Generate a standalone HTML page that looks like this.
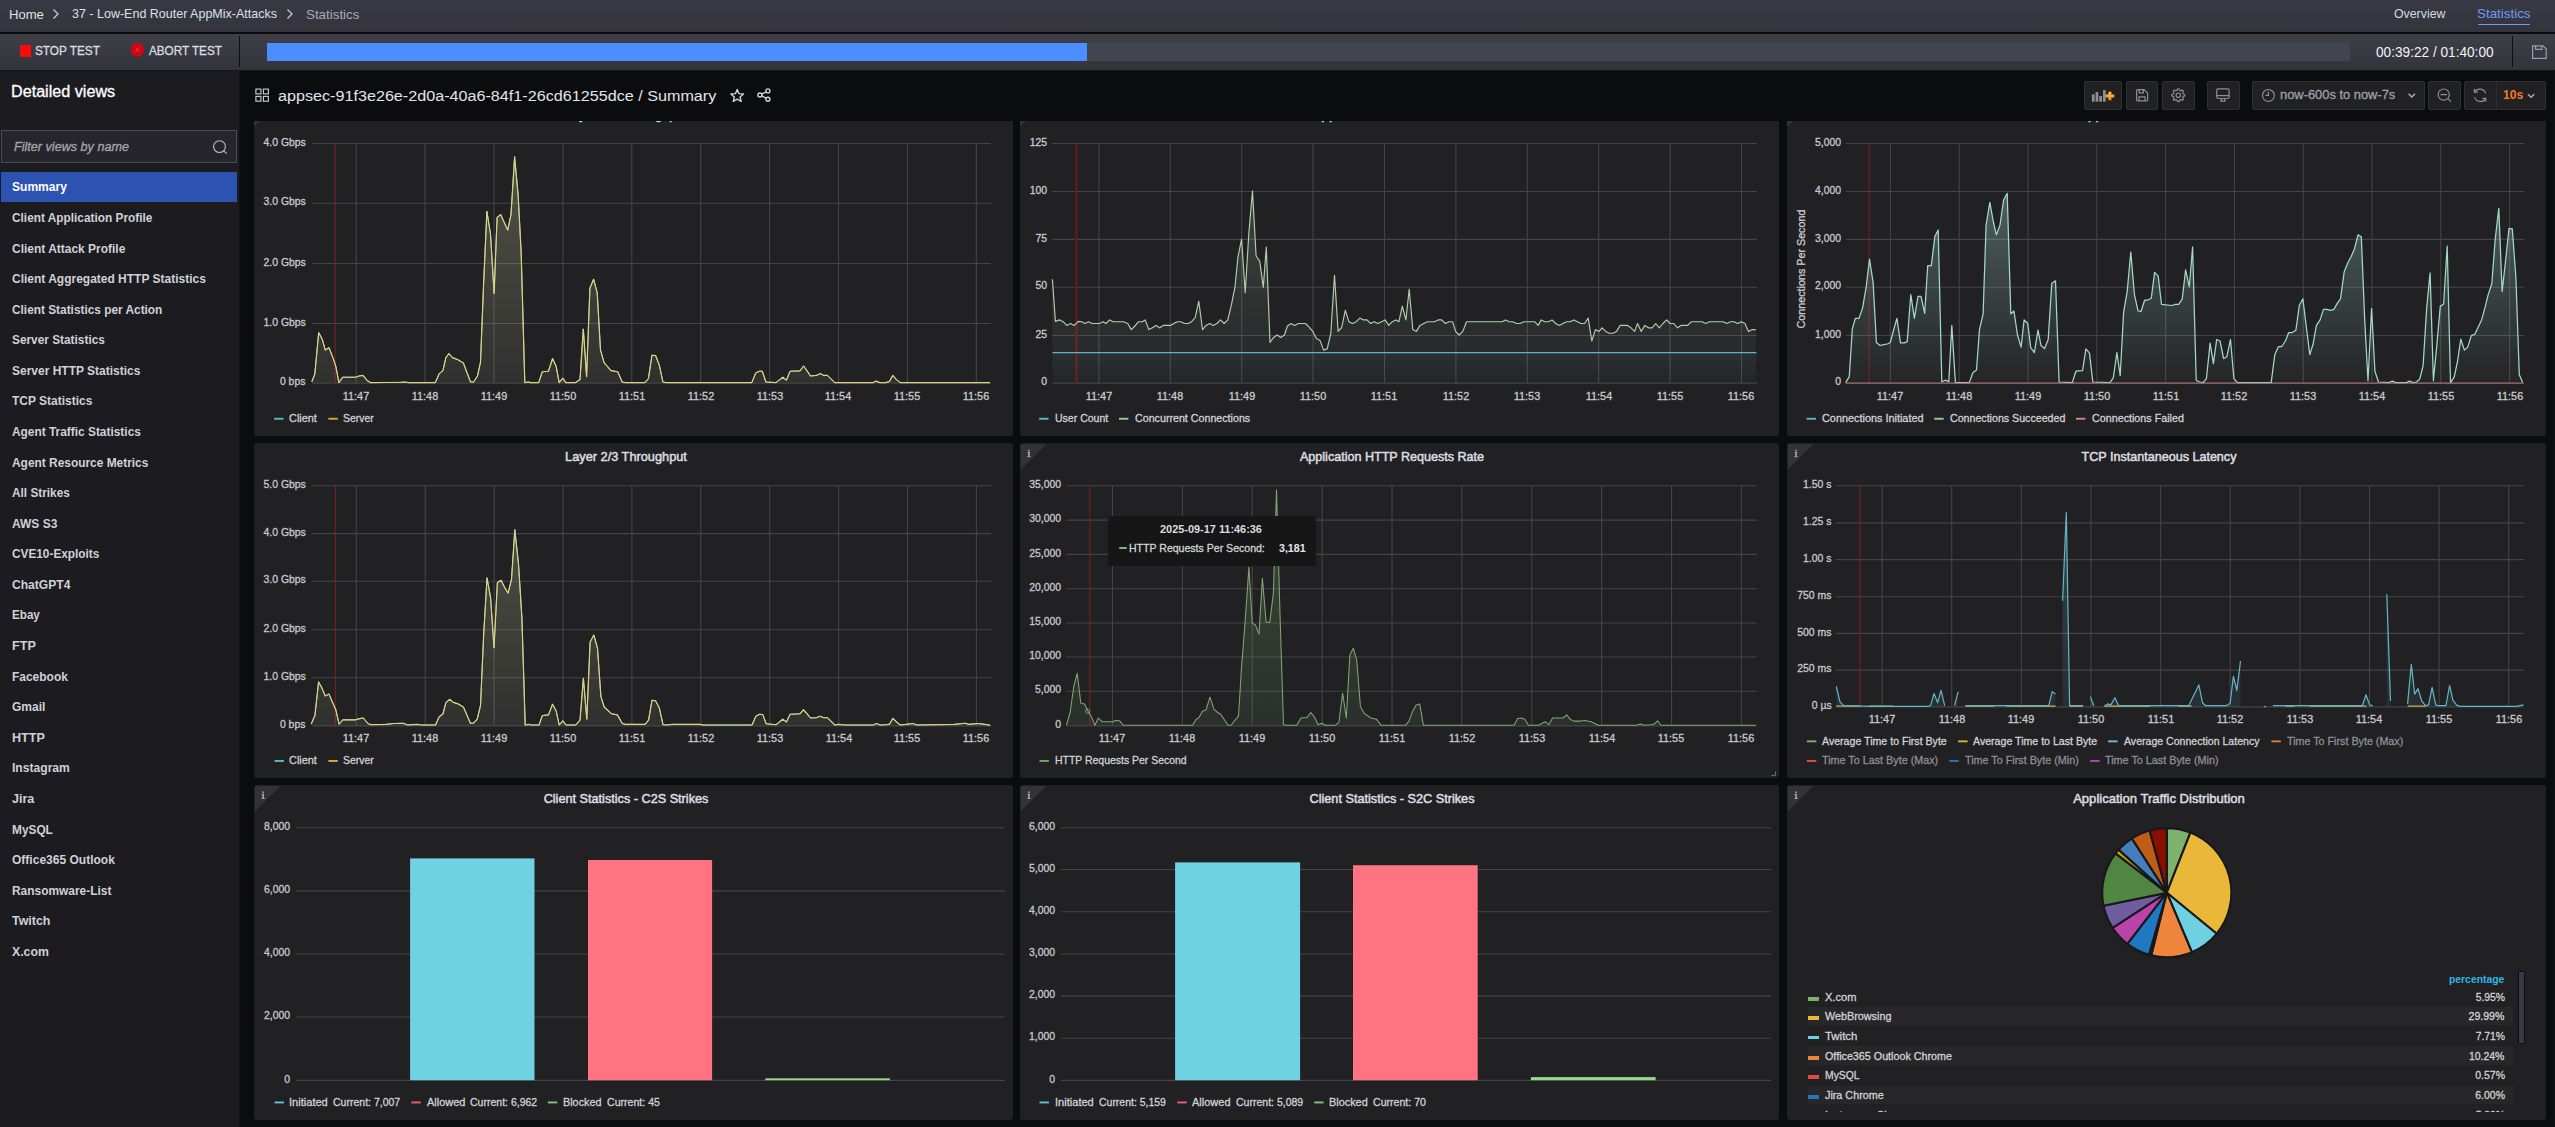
<!DOCTYPE html><html><head><meta charset="utf-8"><title>Statistics</title><style>

html,body{margin:0;padding:0;background:#0b0c0e;}
body{width:2555px;height:1127px;overflow:hidden;position:relative;font-family:"Liberation Sans", sans-serif;}
.t{position:absolute;white-space:nowrap;line-height:20px;height:20px;}
.t i{font-style:inherit;}
svg{position:absolute;left:0;top:0;}

</style></head><body>
<div style="position:absolute;left:0px;top:0px;width:2555px;height:32px;background:linear-gradient(#383942,#33343c);"></div>
<div style="position:absolute;left:0px;top:32px;width:2555px;height:1.5px;background:#0c0c10;"></div>
<div style="position:absolute;left:2478px;top:24px;width:52px;height:1.3px;background:#6e9bf5;"></div>
<div style="position:absolute;left:0px;top:33.5px;width:2555px;height:36.5px;background:linear-gradient(#3e3f47,#33343b);"></div>
<div style="position:absolute;left:0px;top:69.5px;width:2555px;height:1px;background:#141418;"></div>
<div style="position:absolute;left:19.5px;top:45px;width:11.5px;height:11.5px;background:#ff0a0a;"></div>
<div style="position:absolute;left:238.5px;top:36px;width:1.5px;height:31px;background:#101014;"></div>
<div style="position:absolute;left:267px;top:43px;width:2083px;height:18px;background:#42444f;"></div>
<div style="position:absolute;left:267px;top:43px;width:820px;height:18px;background:#4c8dff;"></div>
<div style="position:absolute;left:2511.5px;top:36px;width:1.5px;height:31px;background:#101014;"></div>
<div style="position:absolute;left:0px;top:70.5px;width:238.5px;height:1056.5px;background:#1b1b20;"></div>
<div style="position:absolute;left:238.5px;top:70.5px;width:1.5px;height:1056.5px;background:#121216;"></div>
<div style="position:absolute;left:1px;top:130px;width:236px;height:33px;border:1px solid #4a4a55;box-sizing:border-box;background:#25252b;"></div>
<div style="position:absolute;left:1px;top:171.5px;width:236px;height:30.5px;background:#2d53b2;"></div>
<div style="position:absolute;left:2084.2px;top:81.3px;width:37.6px;height:28.5px;background:#212124;border:1px solid #2f3034;box-sizing:border-box;border-radius:2px;"></div>
<div style="position:absolute;left:2126.2px;top:81.3px;width:31.6px;height:28.5px;background:#212124;border:1px solid #2f3034;box-sizing:border-box;border-radius:2px;"></div>
<div style="position:absolute;left:2162.2px;top:81.3px;width:32.6px;height:28.5px;background:#212124;border:1px solid #2f3034;box-sizing:border-box;border-radius:2px;"></div>
<div style="position:absolute;left:2207.2px;top:81.3px;width:32.6px;height:28.5px;background:#212124;border:1px solid #2f3034;box-sizing:border-box;border-radius:2px;"></div>
<div style="position:absolute;left:2252.2px;top:81.3px;width:172.6px;height:28.5px;background:#212124;border:1px solid #2f3034;box-sizing:border-box;border-radius:2px;"></div>
<div style="position:absolute;left:2428.2px;top:81.3px;width:32.6px;height:28.5px;background:#212124;border:1px solid #2f3034;box-sizing:border-box;border-radius:2px;"></div>
<div style="position:absolute;left:2464.2px;top:81.3px;width:81.6px;height:28.5px;background:#212124;border:1px solid #2f3034;box-sizing:border-box;border-radius:2px;"></div>
<div style="position:absolute;left:2496px;top:81.8px;width:1px;height:27.5px;background:#2c2e33;"></div>
<div style="position:absolute;left:254.2px;top:121px;width:759px;height:314.7px;background:#212124;border-radius:0 0 3px 3px;"></div>
<div style="position:absolute;left:1019.95px;top:121px;width:759px;height:314.7px;background:#212124;border-radius:0 0 3px 3px;"></div>
<div style="position:absolute;left:1787.1px;top:121px;width:759px;height:314.7px;background:#212124;border-radius:0 0 3px 3px;"></div>
<div style="position:absolute;left:254.2px;top:442.75px;width:759px;height:335px;background:#212124;border-radius:3px;"></div>
<div style="position:absolute;left:1019.95px;top:442.75px;width:759px;height:335px;background:#212124;border-radius:3px;"></div>
<div style="position:absolute;left:1787.1px;top:442.75px;width:759px;height:335px;background:#212124;border-radius:3px;"></div>
<div style="position:absolute;left:254.2px;top:784.5px;width:759px;height:335px;background:#212124;border-radius:3px;"></div>
<div style="position:absolute;left:1019.95px;top:784.5px;width:759px;height:335px;background:#212124;border-radius:3px;"></div>
<div style="position:absolute;left:1787.1px;top:784.5px;width:759px;height:335px;background:#212124;border-radius:3px;"></div>
<div style="position:absolute;left:1807.9px;top:997.4px;width:11px;height:3.6px;background:#7eb26d;"></div>
<div style="position:absolute;left:1807.9px;top:1006.8px;width:705.3px;height:18.6px;background:#27272a;"></div>
<div style="position:absolute;left:1807.9px;top:1016.4px;width:11px;height:3.6px;background:#eab839;"></div>
<div style="position:absolute;left:1807.9px;top:1035.9px;width:11px;height:3.6px;background:#6ed0e0;"></div>
<div style="position:absolute;left:1807.9px;top:1046.4px;width:705.3px;height:18.6px;background:#27272a;"></div>
<div style="position:absolute;left:1807.9px;top:1056px;width:11px;height:3.6px;background:#ef843c;"></div>
<div style="position:absolute;left:1807.9px;top:1075.2px;width:11px;height:3.6px;background:#e24d42;"></div>
<div style="position:absolute;left:1807.9px;top:1085.6px;width:705.3px;height:18.6px;background:#27272a;"></div>
<div style="position:absolute;left:1807.9px;top:1095.2px;width:11px;height:3.6px;background:#1f78c1;"></div>
<div style="position:absolute;left:1807.9px;top:1114.9px;width:11px;height:0px;background:#ba43a9;"></div>
<div style="position:absolute;left:2518.3px;top:971.2px;width:6.6px;height:72.6px;background:#3a3a46;border:1px solid #0e0e12;box-sizing:border-box;border-radius:1px;"></div>
<div style="position:absolute;left:2552.8px;top:70.5px;width:2.2px;height:1056.5px;background:#0f1013;"></div>
<svg width="2555" height="1127" viewBox="0 0 2555 1127">
<defs><linearGradient id="g1" gradientUnits="userSpaceOnUse" x1="0" y1="143" x2="0" y2="383"><stop offset="0" stop-color="#c8cd96" stop-opacity="0.3"/><stop offset="1" stop-color="#c8cd96" stop-opacity="0.09"/></linearGradient></defs>
<defs><linearGradient id="g2" gradientUnits="userSpaceOnUse" x1="0" y1="143" x2="0" y2="383"><stop offset="0" stop-color="#b9d3b4" stop-opacity="0.24"/><stop offset="1" stop-color="#b9d3b4" stop-opacity="0.02"/></linearGradient></defs>
<defs><linearGradient id="g2b" gradientUnits="userSpaceOnUse" x1="0" y1="352" x2="0" y2="383"><stop offset="0" stop-color="#6ed0e0" stop-opacity="0.04"/><stop offset="1" stop-color="#6ed0e0" stop-opacity="0"/></linearGradient></defs>
<defs><linearGradient id="g3" gradientUnits="userSpaceOnUse" x1="0" y1="143" x2="0" y2="383"><stop offset="0" stop-color="#a9dcc8" stop-opacity="0.42"/><stop offset="1" stop-color="#a9dcc8" stop-opacity="0.02"/></linearGradient></defs>
<defs><linearGradient id="g4" gradientUnits="userSpaceOnUse" x1="0" y1="485" x2="0" y2="726"><stop offset="0" stop-color="#c8cd96" stop-opacity="0.3"/><stop offset="1" stop-color="#c8cd96" stop-opacity="0.09"/></linearGradient></defs>
<defs><linearGradient id="g5" gradientUnits="userSpaceOnUse" x1="0" y1="485" x2="0" y2="726"><stop offset="0" stop-color="#7eb26d" stop-opacity="0.28"/><stop offset="1" stop-color="#7eb26d" stop-opacity="0.1"/></linearGradient></defs>
<defs><linearGradient id="g6" gradientUnits="userSpaceOnUse" x1="0" y1="485" x2="0" y2="707"><stop offset="0" stop-color="#6ed0e0" stop-opacity="0.22"/><stop offset="1" stop-color="#6ed0e0" stop-opacity="0.08"/></linearGradient></defs>
<path d="M53.5 9.5l4.5 4.5l-4.5 4.5" fill="none" stroke="#d0d1d8" stroke-width="1.2"/>
<path d="M287.5 9.5l4.5 4.5l-4.5 4.5" fill="none" stroke="#d0d1d8" stroke-width="1.2"/>
<circle cx="137.4" cy="49.7" r="6.7" fill="#d3040e"/><path d="M135.2 47.5l4.4 4.4M139.6 47.5l-4.4 4.4" stroke="#e8626a" stroke-width="0.8" opacity="0.8"/>
<path d="M2532.6 45.8h10.4l3.2 3.2v9.4h-13.6z M2535.6 45.8v3.6h6.2v-3.6" fill="none" stroke="#9b9ca6" stroke-width="1.2"/>
<circle cx="219.5" cy="146.6" r="5.9" fill="none" stroke="#b9b9c0" stroke-width="1.15"/><path d="M223.7 150.8l3.1 2.9" stroke="#b9b9c0" stroke-width="1.15"/>
<g fill="none" stroke="#c9cacf" stroke-width="1.15"><rect x="255.9" y="89.1" width="5" height="4.8"/><rect x="263.4" y="89.1" width="5" height="4.8"/><rect x="255.9" y="96.4" width="5" height="4.8"/><rect x="263.4" y="96.4" width="5" height="4.8"/></g>
<polygon points="737.20,89.40 738.96,93.67 743.57,94.03 740.05,97.03 741.14,101.52 737.20,99.10 733.26,101.52 734.35,97.03 730.83,94.03 735.44,93.67" fill="none" stroke="#d3d4d9" stroke-width="1.4" stroke-linejoin="round"/>
<g stroke="#d3d4d9" stroke-width="1.4" fill="none"><circle cx="759.9" cy="95" r="2"/><circle cx="767.9" cy="90.9" r="2"/><circle cx="767.9" cy="99.2" r="2"/><path d="M761.7 94.1l4.4-2.3M761.7 95.9l4.4 2.3"/></g>
<g fill="#8d8e96"><rect x="2091.9" y="94.4" width="2.7" height="7.3"/><rect x="2095.6" y="92.1" width="2.7" height="9.6"/><rect x="2099.3" y="96" width="2.7" height="5.7"/><rect x="2103" y="90.1" width="2.7" height="11.6"/></g><defs><linearGradient id="plusg" x1="0" y1="0" x2="0" y2="1"><stop offset="0" stop-color="#ffc640"/><stop offset="1" stop-color="#f58a1f"/></linearGradient></defs><path d="M2108.4 91.7h3v2.8h2.9v3h-2.9v2.8h-3v-2.8h-2.9v-3h2.9z" fill="url(#plusg)"/>
<path d="M2137.6 89.7h6.6l3.4 3.4v6.8a1 1 0 0 1-1 1h-9a1 1 0 0 1-1-1v-9.2a1 1 0 0 1 1-1z M2139.2 89.8v3h4.2v-2.9 M2139 100.8v-4h6v4" fill="none" stroke="#8d8e96" stroke-width="1.2"/>
<polygon points="2184.76,94.49 2184.76,95.91 2183.10,96.59 2182.68,97.61 2183.37,99.26 2182.36,100.27 2180.71,99.58 2179.69,100.00 2179.01,101.66 2177.59,101.66 2176.91,100.00 2175.89,99.58 2174.24,100.27 2173.23,99.26 2173.92,97.61 2173.50,96.59 2171.84,95.91 2171.84,94.49 2173.50,93.81 2173.92,92.79 2173.23,91.14 2174.24,90.13 2175.89,90.82 2176.91,90.40 2177.59,88.74 2179.01,88.74 2179.69,90.40 2180.71,90.82 2182.36,90.13 2183.37,91.14 2182.68,92.79 2183.10,93.81" fill="none" stroke="#8d8e96" stroke-width="1.2" stroke-linejoin="round"/><circle cx="2178.3" cy="95.2" r="2.2" fill="none" stroke="#8d8e96" stroke-width="1.2"/>
<g fill="none" stroke="#8d8e96" stroke-width="1.2"><rect x="2216.7" y="88.9" width="12.4" height="9.6" rx="1.4"/><path d="M2216.7 95.6h12.4M2220.2 101.2h5.6M2221.4 98.5v2.7M2224.6 98.5v2.7"/></g>
<g fill="none" stroke="#8d8e96" stroke-width="1.2"><circle cx="2268.4" cy="95.4" r="5.9"/><path d="M2268.4 91.6v3.8h-3"/></g>
<path d="M2408.6 93.8l3.2 3.2l3.2-3.2" fill="none" stroke="#b0b1b8" stroke-width="1.4"/>
<g fill="none" stroke="#8d8e96" stroke-width="1.2"><circle cx="2443.7" cy="94.6" r="5.6"/><path d="M2440.5 94.6h6.4M2447.8 98.6l3.2 3"/></g>
<g fill="none" stroke="#8d8e96" stroke-width="1.2"><path d="M2485.6 93.4a6 6 0 0 0-10.9-1.4M2474.6 97.2a6 6 0 0 0 10.9 1.4"/><path d="M2474.4 88.8v3.4h3.4M2485.8 101.8v-3.4h-3.4"/></g>
<path d="M2528 94.2l3.1 3.1l3.1-3.1" fill="none" stroke="#b0b1b8" stroke-width="1.4"/>
<polygon points="254.2,121 259.9,121 254.2,126.7" fill="#343438"/>
<polygon points="1019.95,121 1025.65,121 1019.95,126.7" fill="#343438"/>
<polygon points="1787.1,121 1792.8,121 1787.1,126.7" fill="#343438"/>
<polygon points="1020.55,444.15 1046.15,444.15 1020.55,469.75" fill="#333337"/>
<g fill="#a6a7ad"><rect x="1028.15" y="449.75" width="1.6" height="1.6"/><rect x="1028.15" y="452.15" width="1.6" height="4.6"/><rect x="1027.35" y="456.15" width="3.2" height="1"/><rect x="1027.35" y="452.15" width="2.4" height="1"/></g>
<polygon points="1787.7,444.15 1813.3,444.15 1787.7,469.75" fill="#333337"/>
<g fill="#a6a7ad"><rect x="1795.3" y="449.75" width="1.6" height="1.6"/><rect x="1795.3" y="452.15" width="1.6" height="4.6"/><rect x="1794.5" y="456.15" width="3.2" height="1"/><rect x="1794.5" y="452.15" width="2.4" height="1"/></g>
<polygon points="254.8,785.9 280.4,785.9 254.8,811.5" fill="#333337"/>
<g fill="#a6a7ad"><rect x="262.4" y="791.5" width="1.6" height="1.6"/><rect x="262.4" y="793.9" width="1.6" height="4.6"/><rect x="261.6" y="797.9" width="3.2" height="1"/><rect x="261.6" y="793.9" width="2.4" height="1"/></g>
<polygon points="1020.55,785.9 1046.15,785.9 1020.55,811.5" fill="#333337"/>
<g fill="#a6a7ad"><rect x="1028.15" y="791.5" width="1.6" height="1.6"/><rect x="1028.15" y="793.9" width="1.6" height="4.6"/><rect x="1027.35" y="797.9" width="3.2" height="1"/><rect x="1027.35" y="793.9" width="2.4" height="1"/></g>
<polygon points="1787.7,785.9 1813.3,785.9 1787.7,811.5" fill="#333337"/>
<g fill="#a6a7ad"><rect x="1795.3" y="791.5" width="1.6" height="1.6"/><rect x="1795.3" y="793.9" width="1.6" height="4.6"/><rect x="1794.5" y="797.9" width="3.2" height="1"/><rect x="1794.5" y="793.9" width="2.4" height="1"/></g>
<g stroke="#444448" stroke-width="1.1"><path d="M312 143.5H991"/><path d="M312 203.2H991"/><path d="M312 263.5H991"/><path d="M312 323.5H991"/><path d="M312 383.1H991"/><path d="M356.2 143V383"/><path d="M425.1 143V383"/><path d="M494 143V383"/><path d="M562.9 143V383"/><path d="M631.8 143V383"/><path d="M700.7 143V383"/><path d="M769.6 143V383"/><path d="M838.5 143V383"/><path d="M907.4 143V383"/><path d="M976.3 143V383"/></g>
<rect x="334.7" y="144" width="1" height="239" fill="#7f1e21"/>
<polyline points="311.8,381.7 314.8,374.2 318.7,332.6 322.3,339.5 325.3,350.1 329,347.7 332.9,357.6 335.9,366.6 338.9,382.6 342.8,377.2 355.5,377.2 359.1,376 363,375.4 367.5,380.8 370.5,382.6 400.7,382.3 405.2,382 408.2,382.6 435.3,382.6 439.3,373.6 442.9,370.6 445.9,357.6 448.9,353.7 452.5,357.6 457.9,359.7 463.4,363 467,372.7 470.6,382 473.6,382 477.5,376 480.5,362.1 483.6,283.8 486.9,211.4 490.5,234 494.1,293.4 497.1,217.5 500.7,214.5 504.7,223.5 507.7,230.1 511,214.5 514.6,156 518.2,195.2 521.2,253.6 524.8,382.6 528.8,382 530.3,382.6 538.7,382.6 542.3,371.8 548.4,371.2 552.6,358.5 556.2,366.6 559.2,382.6 562.8,378.1 565.8,382.6 575.5,382.6 580,379.6 583.3,329 586.6,376.6 589.9,288.3 593.6,279.2 597.2,292.8 600.5,350.1 604.1,362.7 611,370.6 617.7,371.8 622.2,382 625.2,382.6 644.8,382.6 648.4,378.7 652,355.2 655.6,355.5 659.3,365.1 662.9,382 665.9,382.6 751.8,382.6 755.7,373 759.3,371.2 762.3,371.2 765.9,382 775.9,382.6 779.8,379.6 782.8,377.2 786.4,380.2 790.1,371.2 800,370.9 803.6,366 806.9,370.6 810.5,376 816.6,375.4 820.2,373.6 823.8,375.4 827.4,375.4 834.7,382.6 873.2,382.6 876.2,381.1 879.9,382.6 885.9,382.6 889.5,381.4 892.8,375.4 896.4,379.6 900.4,382.6 989.9,382.6" fill="none" stroke="#6ed0e0" stroke-width="1" stroke-linejoin="round"/>
<polygon points="311.8,382.6 311.8,381.7 314.8,374.2 318.7,332.6 322.3,339.5 325.3,350.1 329,347.7 332.9,357.6 335.9,366.6 338.9,382.6 342.8,377.2 355.5,377.2 359.1,376 363,375.4 367.5,380.8 370.5,382.6 400.7,382.3 405.2,382 408.2,382.6 435.3,382.6 439.3,373.6 442.9,370.6 445.9,357.6 448.9,353.7 452.5,357.6 457.9,359.7 463.4,363 467,372.7 470.6,382 473.6,382 477.5,376 480.5,362.1 483.6,283.8 486.9,211.4 490.5,234 494.1,293.4 497.1,217.5 500.7,214.5 504.7,223.5 507.7,230.1 511,214.5 514.6,157.2 518.2,196.4 521.2,253.6 524.8,382.6 528.8,382 530.3,382.6 538.7,382.6 542.3,371.8 548.4,371.2 552.6,358.5 556.2,366.6 559.2,382.6 562.8,378.1 565.8,382.6 575.5,382.6 580,379.6 583.3,329 586.6,376.6 589.9,288.3 593.6,279.2 597.2,292.8 600.5,350.1 604.1,362.7 611,370.6 617.7,371.8 622.2,382 625.2,382.6 644.8,382.6 648.4,378.7 652,355.2 655.6,355.5 659.3,365.1 662.9,382 665.9,382.6 751.8,382.6 755.7,373 759.3,371.2 762.3,371.2 765.9,382 775.9,382.6 779.8,379.6 782.8,377.2 786.4,380.2 790.1,371.2 800,370.9 803.6,366 806.9,370.6 810.5,376 816.6,375.4 820.2,373.6 823.8,375.4 827.4,375.4 834.7,382.6 873.2,382.6 876.2,381.1 879.9,382.6 885.9,382.6 889.5,381.4 892.8,375.4 896.4,379.6 900.4,382.6 989.9,382.6 989.9,382.6" fill="url(#g1)"/>
<polyline points="311.8,381.7 314.8,374.2 318.7,332.6 322.3,339.5 325.3,350.1 329,347.7 332.9,357.6 335.9,366.6 338.9,382.6 342.8,377.2 355.5,377.2 359.1,376 363,375.4 367.5,380.8 370.5,382.6 400.7,382.3 405.2,382 408.2,382.6 435.3,382.6 439.3,373.6 442.9,370.6 445.9,357.6 448.9,353.7 452.5,357.6 457.9,359.7 463.4,363 467,372.7 470.6,382 473.6,382 477.5,376 480.5,362.1 483.6,283.8 486.9,211.4 490.5,234 494.1,293.4 497.1,217.5 500.7,214.5 504.7,223.5 507.7,230.1 511,214.5 514.6,157.2 518.2,196.4 521.2,253.6 524.8,382.6 528.8,382 530.3,382.6 538.7,382.6 542.3,371.8 548.4,371.2 552.6,358.5 556.2,366.6 559.2,382.6 562.8,378.1 565.8,382.6 575.5,382.6 580,379.6 583.3,329 586.6,376.6 589.9,288.3 593.6,279.2 597.2,292.8 600.5,350.1 604.1,362.7 611,370.6 617.7,371.8 622.2,382 625.2,382.6 644.8,382.6 648.4,378.7 652,355.2 655.6,355.5 659.3,365.1 662.9,382 665.9,382.6 751.8,382.6 755.7,373 759.3,371.2 762.3,371.2 765.9,382 775.9,382.6 779.8,379.6 782.8,377.2 786.4,380.2 790.1,371.2 800,370.9 803.6,366 806.9,370.6 810.5,376 816.6,375.4 820.2,373.6 823.8,375.4 827.4,375.4 834.7,382.6 873.2,382.6 876.2,381.1 879.9,382.6 885.9,382.6 889.5,381.4 892.8,375.4 896.4,379.6 900.4,382.6 989.9,382.6" fill="none" stroke="#e3cf7c" stroke-width="1.15" stroke-linejoin="round" />
<rect x="274.1" y="417.8" width="9.4" height="1.9" fill="#5fb7c6"/>
<rect x="328.4" y="417.8" width="9.4" height="1.9" fill="#d9a93a"/>
<g stroke="#444448" stroke-width="1.1"><path d="M1052.5 143.5H1757"/><path d="M1052.5 191.5H1757"/><path d="M1052.5 239.4H1757"/><path d="M1052.5 287.3H1757"/><path d="M1052.5 335.5H1757"/><path d="M1052.5 383.1H1757"/><path d="M1098.9 143V383"/><path d="M1170.3 143V383"/><path d="M1241.7 143V383"/><path d="M1313.1 143V383"/><path d="M1384.5 143V383"/><path d="M1455.9 143V383"/><path d="M1527.3 143V383"/><path d="M1598.7 143V383"/><path d="M1670.1 143V383"/><path d="M1741.5 143V383"/></g>
<rect x="1075.3" y="144" width="2.2" height="239" fill="#661b1e"/>
<rect x="1052.5" y="352.5" width="704" height="30" fill="url(#g2b)"/>
<polygon points="1052.4,382.6 1052.4,279.2 1055.4,321.4 1059.6,319.9 1063.2,321.7 1066.8,325.4 1070.5,323.5 1074.1,325.4 1078.3,321.4 1081.9,321.7 1084.9,323.5 1088.5,321.7 1092.2,323.5 1099.4,323.5 1103,321.7 1106,323.5 1109.6,319.9 1113.2,321.7 1123.5,321.7 1127.7,323.5 1131.3,329.6 1134.9,326 1138.6,321.7 1142.2,321.7 1145.2,319.9 1148.8,329.6 1152.4,327.8 1156,325.4 1159.7,327.8 1163.3,325.4 1170.5,325.4 1174.7,322.9 1177.7,321.7 1180.8,321.7 1184.4,323.5 1188,323.5 1191.6,321.7 1195.2,317.5 1198.8,301.2 1202.5,329.6 1206.1,325.4 1209.7,323.5 1213.3,325.4 1216.9,323.5 1220.5,319.9 1224.2,323.5 1227.8,319.9 1231.4,304.9 1235,286.8 1238,256.6 1241.6,239.2 1245.2,292.8 1248.9,232.5 1252.5,190.9 1256.1,256 1259.7,261.2 1263.3,287.4 1266.3,247 1270,342.5 1273.6,337.4 1277.2,335 1280.8,337.4 1284.4,335 1287.4,326 1291.1,323.5 1294.7,325.4 1298.3,323.5 1305.5,323.5 1309.1,327.2 1312.8,331.4 1316.4,338.6 1320,340.4 1323.6,350.1 1327.2,348.9 1330.8,333.5 1334.5,275.3 1338.1,331.4 1341.7,327.5 1345.3,310.3 1348.9,321.7 1352.5,323.5 1356.2,321.7 1359.8,318.1 1363.4,319.9 1367,319.9 1370.6,323.5 1374.2,321.7 1377.8,323.5 1381.5,321.7 1385.1,319.9 1388.7,325.4 1392.3,321.7 1395.9,319.9 1398.9,321.7 1402.3,306.1 1405.9,319.9 1409.2,289.2 1412.8,329.6 1416.4,331.4 1420,325.4 1423.7,323.5 1427.3,321.7 1434.5,321.7 1438.1,319.9 1441.7,319.9 1445.4,323.5 1449,321.7 1452.6,321.7 1455.6,331.4 1459.2,335 1462.8,331.4 1466.5,321.7 1502,321.7 1505.6,319.9 1509.2,321.7 1512.9,321.7 1516.5,323.5 1520.1,323.5 1523.7,321.7 1534.6,321.7 1538.2,325.4 1541.2,319.9 1544.8,321.7 1548.4,321.7 1552,319.9 1555.7,323.5 1559.3,325.4 1562.9,323.5 1566.5,321.7 1570.1,321.7 1573.7,319.9 1577.4,321.7 1581,323.5 1584.6,323.5 1588.2,318.1 1591.8,341 1595.4,329.6 1599.1,331.4 1602.1,327.8 1605.7,331.4 1609.3,333.2 1612.9,333.2 1616.5,331.4 1620.2,325.4 1627.4,325.4 1631,327.8 1634.6,331.4 1637.6,323.5 1641.2,331.4 1644.9,325.4 1648.5,327.8 1652.1,327.8 1655.7,323.5 1659.3,327.8 1662.9,323.5 1666.6,319.9 1670.2,323.5 1673.8,323.5 1677.4,327.8 1681,325.4 1687.7,325.4 1691.3,321.7 1702.1,321.7 1705.7,323.5 1709.4,321.7 1723.2,321.7 1726.8,323.5 1730.5,321.7 1734.1,321.7 1737.7,323.5 1741.3,321.7 1744.9,323.5 1748.5,331.4 1752.2,329.6 1755.8,329.6 1755.8,382.6" fill="url(#g2)"/>
<polyline points="1052.4,279.2 1055.4,321.4 1059.6,319.9 1063.2,321.7 1066.8,325.4 1070.5,323.5 1074.1,325.4 1078.3,321.4 1081.9,321.7 1084.9,323.5 1088.5,321.7 1092.2,323.5 1099.4,323.5 1103,321.7 1106,323.5 1109.6,319.9 1113.2,321.7 1123.5,321.7 1127.7,323.5 1131.3,329.6 1134.9,326 1138.6,321.7 1142.2,321.7 1145.2,319.9 1148.8,329.6 1152.4,327.8 1156,325.4 1159.7,327.8 1163.3,325.4 1170.5,325.4 1174.7,322.9 1177.7,321.7 1180.8,321.7 1184.4,323.5 1188,323.5 1191.6,321.7 1195.2,317.5 1198.8,301.2 1202.5,329.6 1206.1,325.4 1209.7,323.5 1213.3,325.4 1216.9,323.5 1220.5,319.9 1224.2,323.5 1227.8,319.9 1231.4,304.9 1235,286.8 1238,256.6 1241.6,239.2 1245.2,292.8 1248.9,232.5 1252.5,190.9 1256.1,256 1259.7,261.2 1263.3,287.4 1266.3,247 1270,342.5 1273.6,337.4 1277.2,335 1280.8,337.4 1284.4,335 1287.4,326 1291.1,323.5 1294.7,325.4 1298.3,323.5 1305.5,323.5 1309.1,327.2 1312.8,331.4 1316.4,338.6 1320,340.4 1323.6,350.1 1327.2,348.9 1330.8,333.5 1334.5,275.3 1338.1,331.4 1341.7,327.5 1345.3,310.3 1348.9,321.7 1352.5,323.5 1356.2,321.7 1359.8,318.1 1363.4,319.9 1367,319.9 1370.6,323.5 1374.2,321.7 1377.8,323.5 1381.5,321.7 1385.1,319.9 1388.7,325.4 1392.3,321.7 1395.9,319.9 1398.9,321.7 1402.3,306.1 1405.9,319.9 1409.2,289.2 1412.8,329.6 1416.4,331.4 1420,325.4 1423.7,323.5 1427.3,321.7 1434.5,321.7 1438.1,319.9 1441.7,319.9 1445.4,323.5 1449,321.7 1452.6,321.7 1455.6,331.4 1459.2,335 1462.8,331.4 1466.5,321.7 1502,321.7 1505.6,319.9 1509.2,321.7 1512.9,321.7 1516.5,323.5 1520.1,323.5 1523.7,321.7 1534.6,321.7 1538.2,325.4 1541.2,319.9 1544.8,321.7 1548.4,321.7 1552,319.9 1555.7,323.5 1559.3,325.4 1562.9,323.5 1566.5,321.7 1570.1,321.7 1573.7,319.9 1577.4,321.7 1581,323.5 1584.6,323.5 1588.2,318.1 1591.8,341 1595.4,329.6 1599.1,331.4 1602.1,327.8 1605.7,331.4 1609.3,333.2 1612.9,333.2 1616.5,331.4 1620.2,325.4 1627.4,325.4 1631,327.8 1634.6,331.4 1637.6,323.5 1641.2,331.4 1644.9,325.4 1648.5,327.8 1652.1,327.8 1655.7,323.5 1659.3,327.8 1662.9,323.5 1666.6,319.9 1670.2,323.5 1673.8,323.5 1677.4,327.8 1681,325.4 1687.7,325.4 1691.3,321.7 1702.1,321.7 1705.7,323.5 1709.4,321.7 1723.2,321.7 1726.8,323.5 1730.5,321.7 1734.1,321.7 1737.7,323.5 1741.3,321.7 1744.9,323.5 1748.5,331.4 1752.2,329.6 1755.8,329.6" fill="none" stroke="#b4cdac" stroke-width="1.15" stroke-linejoin="round" />
<path d="M1052.5 352.6H1756.5" stroke="#62b2bf" stroke-width="1.3"/>
<rect x="1039.1" y="417.8" width="9.4" height="1.9" fill="#5fb7c6"/>
<rect x="1119" y="417.8" width="9.4" height="1.9" fill="#a9c3a2"/>
<g stroke="#444448" stroke-width="1.1"><path d="M1845.7 143.5H2524"/><path d="M1845.7 191.5H2524"/><path d="M1845.7 239.4H2524"/><path d="M1845.7 287.3H2524"/><path d="M1845.7 335.5H2524"/><path d="M1845.7 383.1H2524"/><path d="M1890.4 143V383"/><path d="M1959.2 143V383"/><path d="M2028 143V383"/><path d="M2096.8 143V383"/><path d="M2165.6 143V383"/><path d="M2234.4 143V383"/><path d="M2303.2 143V383"/><path d="M2372 143V383"/><path d="M2440.8 143V383"/><path d="M2509.6 143V383"/></g>
<rect x="1868.6" y="144" width="1" height="239" fill="#7f1e21"/>
<polygon points="1845.7,382.6 1845.7,382.6 1849.3,376.6 1852.3,329 1855.3,318.4 1859,318.4 1862.6,307.9 1866.2,286.8 1869.5,259.1 1873.1,282.3 1876.4,342.5 1880.1,345.5 1883.7,344.6 1887.3,344 1890.3,342.5 1893.9,329 1896.9,318.4 1900.5,342.8 1904.2,342.8 1907.2,341.6 1910.8,294.6 1914.4,318.4 1918,296.4 1921,296.4 1924.7,313.3 1927.7,265.7 1931.3,265.7 1934.9,236.2 1938.2,230.1 1941.8,381.7 1945.2,380.2 1948.8,381.7 1951.8,325.4 1955.4,382.6 1969.3,382.6 1972.9,372.7 1976.5,370 1979.5,329.6 1983.1,313.9 1986.1,225 1989.8,202.4 1993.4,222 1996.4,234.9 2000,225 2003.6,200 2007.2,193.4 2010.8,313.9 2013.9,310.9 2017.5,335 2021.1,347.1 2024.1,319.9 2027.7,323.5 2030.7,347.7 2034.4,352.5 2038,330.2 2041,345.5 2044.6,348.6 2048.2,339.5 2051.8,283.2 2055.5,280.8 2059.1,382 2072.3,382.6 2075.9,371.2 2082.6,370.6 2085.9,348.9 2089.5,353.1 2092.8,382 2110,382.6 2113.3,377.8 2116.9,352.5 2120.2,375.7 2123.6,312.4 2127.2,291.3 2130.8,252.1 2134.4,294.3 2138,310.9 2141,311.5 2144.7,300 2147.7,300 2151.3,298.2 2154.6,272.3 2158.2,276.2 2161.5,304.3 2171.8,305.5 2175.4,304.3 2178.7,304.3 2182.3,298.8 2185.6,269.9 2189.3,286.8 2192.6,247 2196.2,380.2 2199.5,382 2203.1,382.6 2206.4,378.7 2210.1,343.1 2213.4,363.6 2216.7,339.5 2220,341 2223.6,358.5 2226.9,356.7 2230.5,339.5 2233.9,378.7 2237.5,382.6 2271.2,382.6 2274.8,354.6 2278.5,346.5 2281.8,346.5 2285.4,341 2288.7,332.6 2292.3,332.6 2295.9,330.2 2299.3,305.5 2302.9,298.8 2306.2,326 2309.8,354.6 2313.1,344 2316.4,325.4 2320.1,319.9 2323.4,309.4 2327,309.4 2330.3,310.3 2333.9,309.4 2337.2,303.4 2340.5,298.8 2344.2,271.7 2347.8,262.7 2351.1,256.6 2354.4,249.1 2358,234.9 2361.3,236.8 2364.7,319.9 2368,380.8 2371.6,308.5 2374.9,371.2 2378.5,382 2388.8,382.6 2392.4,381.1 2395.7,382.6 2406.2,382.6 2409.6,381.1 2412.9,382.6 2416.5,382 2419.8,379 2423.1,365.7 2426.7,307.9 2430.1,272.9 2433.4,380.8 2437,343.4 2440.3,306.1 2443.6,304.3 2447.2,246.1 2450.5,382.6 2454.2,377.2 2457.5,361.5 2460.8,339.2 2464.4,350.1 2467.7,347.1 2471.3,335.6 2474.7,334.4 2478,327.5 2481.6,319.9 2484.9,307.9 2488.2,294.6 2491.8,283.8 2495.2,239.2 2498.8,208.4 2502.1,291.6 2505.7,259.7 2509,228.3 2512.3,228.9 2515.9,277.7 2519.3,374.8 2522.6,382.6 2522.6,382.6" fill="url(#g3)"/>
<polyline points="1845.7,382.6 1849.3,376.6 1852.3,329 1855.3,318.4 1859,318.4 1862.6,307.9 1866.2,286.8 1869.5,259.1 1873.1,282.3 1876.4,342.5 1880.1,345.5 1883.7,344.6 1887.3,344 1890.3,342.5 1893.9,329 1896.9,318.4 1900.5,342.8 1904.2,342.8 1907.2,341.6 1910.8,294.6 1914.4,318.4 1918,296.4 1921,296.4 1924.7,313.3 1927.7,265.7 1931.3,265.7 1934.9,236.2 1938.2,230.1 1941.8,381.7 1945.2,380.2 1948.8,381.7 1951.8,325.4 1955.4,382.6 1969.3,382.6 1972.9,372.7 1976.5,370 1979.5,329.6 1983.1,313.9 1986.1,225 1989.8,202.4 1993.4,222 1996.4,234.9 2000,225 2003.6,200 2007.2,193.4 2010.8,313.9 2013.9,310.9 2017.5,335 2021.1,347.1 2024.1,319.9 2027.7,323.5 2030.7,347.7 2034.4,352.5 2038,330.2 2041,345.5 2044.6,348.6 2048.2,339.5 2051.8,283.2 2055.5,280.8 2059.1,382 2072.3,382.6 2075.9,371.2 2082.6,370.6 2085.9,348.9 2089.5,353.1 2092.8,382 2110,382.6 2113.3,377.8 2116.9,352.5 2120.2,375.7 2123.6,312.4 2127.2,291.3 2130.8,252.1 2134.4,294.3 2138,310.9 2141,311.5 2144.7,300 2147.7,300 2151.3,298.2 2154.6,272.3 2158.2,276.2 2161.5,304.3 2171.8,305.5 2175.4,304.3 2178.7,304.3 2182.3,298.8 2185.6,269.9 2189.3,286.8 2192.6,247 2196.2,380.2 2199.5,382 2203.1,382.6 2206.4,378.7 2210.1,343.1 2213.4,363.6 2216.7,339.5 2220,341 2223.6,358.5 2226.9,356.7 2230.5,339.5 2233.9,378.7 2237.5,382.6 2271.2,382.6 2274.8,354.6 2278.5,346.5 2281.8,346.5 2285.4,341 2288.7,332.6 2292.3,332.6 2295.9,330.2 2299.3,305.5 2302.9,298.8 2306.2,326 2309.8,354.6 2313.1,344 2316.4,325.4 2320.1,319.9 2323.4,309.4 2327,309.4 2330.3,310.3 2333.9,309.4 2337.2,303.4 2340.5,298.8 2344.2,271.7 2347.8,262.7 2351.1,256.6 2354.4,249.1 2358,234.9 2361.3,236.8 2364.7,319.9 2368,380.8 2371.6,308.5 2374.9,371.2 2378.5,382 2388.8,382.6 2392.4,381.1 2395.7,382.6 2406.2,382.6 2409.6,381.1 2412.9,382.6 2416.5,382 2419.8,379 2423.1,365.7 2426.7,307.9 2430.1,272.9 2433.4,380.8 2437,343.4 2440.3,306.1 2443.6,304.3 2447.2,246.1 2450.5,382.6 2454.2,377.2 2457.5,361.5 2460.8,339.2 2464.4,350.1 2467.7,347.1 2471.3,335.6 2474.7,334.4 2478,327.5 2481.6,319.9 2484.9,307.9 2488.2,294.6 2491.8,283.8 2495.2,239.2 2498.8,208.4 2502.1,291.6 2505.7,259.7 2509,228.3 2512.3,228.9 2515.9,277.7 2519.3,374.8 2522.6,382.6" fill="none" stroke="#a3d9c3" stroke-width="1.25" stroke-linejoin="round" />
<path d="M1845.7 383.1H2523.5" stroke="#c77c7c" stroke-width="0.9"/>
<rect x="1806.5" y="417.8" width="9.4" height="1.9" fill="#5fb7c6"/>
<rect x="1934.3" y="417.8" width="9.4" height="1.9" fill="#a9c3a2"/>
<rect x="2076" y="417.8" width="9.4" height="1.9" fill="#e0807c"/>
<g stroke="#444448" stroke-width="1.1"><path d="M311.5 485.8H991"/><path d="M311.5 533.6H991"/><path d="M311.5 581.3H991"/><path d="M311.5 629.7H991"/><path d="M311.5 677.8H991"/><path d="M311.5 725.9H991"/><path d="M356.3 485V726"/><path d="M425.2 485V726"/><path d="M494.1 485V726"/><path d="M563 485V726"/><path d="M631.9 485V726"/><path d="M700.8 485V726"/><path d="M769.7 485V726"/><path d="M838.6 485V726"/><path d="M907.5 485V726"/><path d="M976.4 485V726"/></g>
<rect x="334.8" y="486" width="1" height="240" fill="#7f1e21"/>
<polyline points="311.2,724.1 314.9,715.5 318.6,681.9 321.9,688 325.3,696 329,694.1 332.7,702.7 335.7,709.4 339.1,724.1 342.8,719.8 355.6,719.8 359.6,718.6 363.3,718 367.9,723.5 370.9,724.7 386.2,724.4 393.9,723.5 403.1,723.2 407.7,725 416.9,724.4 421.5,725 435.5,725 439.2,716.8 442.9,714 445.9,702.7 449.6,699.3 453.3,702.4 458.2,703.9 463.4,707 467.1,715.5 470.4,723.2 473.5,723.2 477.2,719.2 480.5,705.7 483.6,635.9 487,577.8 490.6,597.7 494,647.6 497.4,582.4 501.1,580.2 504.7,587.6 508.1,593.1 511.5,579.3 514.8,529.1 518.5,564 521.9,617.6 525.2,725 529.2,724.4 530.8,725 539,725 542.4,715.5 548.5,714.9 552.5,704.2 556.2,711 559.2,725 562.9,720.8 566,725 575.8,725 580,720.1 583.4,678.2 586.8,719.2 590.1,642.1 593.8,635 597.5,648.2 600.9,696.6 604.2,707 611.3,713.7 617.4,714.9 622.3,723.5 625.4,724.4 645,724.4 648.6,720.1 652,700.2 655.7,700.9 659.3,707.9 663,724.7 666.4,725 672.5,724.4 700.1,724.4 703.1,725 752.1,725 755.8,716.2 759.5,714.3 762.8,714.6 766.2,723.8 776,724.7 779.7,721.7 782.7,719.2 786.4,722 790.1,714.3 800.2,713.7 803.5,709.7 807.2,714 810.6,718 816.4,717.7 820.1,716.2 823.7,717.7 827.4,717.7 834.8,725 838.4,724.4 845.5,725 873.3,725 876.4,723.5 880.1,725 886.2,724.7 889.6,724.1 892.9,718.3 896.6,722 900.3,725 908.3,724.1 912.8,723.5 916.8,725 954.2,724.4 965.2,723.2 968.9,724.4 978.1,723.5 983.3,724.1 990.3,725.3" fill="none" stroke="#6ed0e0" stroke-width="1" stroke-linejoin="round"/>
<polygon points="311.2,725.4 311.2,724.1 314.9,715.5 318.6,681.9 321.9,688 325.3,696 329,694.1 332.7,702.7 335.7,709.4 339.1,724.1 342.8,719.8 355.6,719.8 359.6,718.6 363.3,718 367.9,723.5 370.9,724.7 386.2,724.4 393.9,723.5 403.1,723.2 407.7,725 416.9,724.4 421.5,725 435.5,725 439.2,716.8 442.9,714 445.9,702.7 449.6,699.3 453.3,702.4 458.2,703.9 463.4,707 467.1,715.5 470.4,723.2 473.5,723.2 477.2,719.2 480.5,705.7 483.6,635.9 487,577.8 490.6,597.7 494,647.6 497.4,582.4 501.1,580.2 504.7,587.6 508.1,593.1 511.5,579.3 514.8,530.3 518.5,564 521.9,617.6 525.2,725 529.2,724.4 530.8,725 539,725 542.4,715.5 548.5,714.9 552.5,704.2 556.2,711 559.2,725 562.9,720.8 566,725 575.8,725 580,720.1 583.4,678.2 586.8,719.2 590.1,642.1 593.8,635 597.5,648.2 600.9,696.6 604.2,707 611.3,713.7 617.4,714.9 622.3,723.5 625.4,724.4 645,724.4 648.6,720.1 652,700.2 655.7,700.9 659.3,707.9 663,724.7 666.4,725 672.5,724.4 700.1,724.4 703.1,725 752.1,725 755.8,716.2 759.5,714.3 762.8,714.6 766.2,723.8 776,724.7 779.7,721.7 782.7,719.2 786.4,722 790.1,714.3 800.2,713.7 803.5,709.7 807.2,714 810.6,718 816.4,717.7 820.1,716.2 823.7,717.7 827.4,717.7 834.8,725 838.4,724.4 845.5,725 873.3,725 876.4,723.5 880.1,725 886.2,724.7 889.6,724.1 892.9,718.3 896.6,722 900.3,725 908.3,724.1 912.8,723.5 916.8,725 954.2,724.4 965.2,723.2 968.9,724.4 978.1,723.5 983.3,724.1 990.3,725.3 990.3,725.4" fill="url(#g4)"/>
<polyline points="311.2,724.1 314.9,715.5 318.6,681.9 321.9,688 325.3,696 329,694.1 332.7,702.7 335.7,709.4 339.1,724.1 342.8,719.8 355.6,719.8 359.6,718.6 363.3,718 367.9,723.5 370.9,724.7 386.2,724.4 393.9,723.5 403.1,723.2 407.7,725 416.9,724.4 421.5,725 435.5,725 439.2,716.8 442.9,714 445.9,702.7 449.6,699.3 453.3,702.4 458.2,703.9 463.4,707 467.1,715.5 470.4,723.2 473.5,723.2 477.2,719.2 480.5,705.7 483.6,635.9 487,577.8 490.6,597.7 494,647.6 497.4,582.4 501.1,580.2 504.7,587.6 508.1,593.1 511.5,579.3 514.8,530.3 518.5,564 521.9,617.6 525.2,725 529.2,724.4 530.8,725 539,725 542.4,715.5 548.5,714.9 552.5,704.2 556.2,711 559.2,725 562.9,720.8 566,725 575.8,725 580,720.1 583.4,678.2 586.8,719.2 590.1,642.1 593.8,635 597.5,648.2 600.9,696.6 604.2,707 611.3,713.7 617.4,714.9 622.3,723.5 625.4,724.4 645,724.4 648.6,720.1 652,700.2 655.7,700.9 659.3,707.9 663,724.7 666.4,725 672.5,724.4 700.1,724.4 703.1,725 752.1,725 755.8,716.2 759.5,714.3 762.8,714.6 766.2,723.8 776,724.7 779.7,721.7 782.7,719.2 786.4,722 790.1,714.3 800.2,713.7 803.5,709.7 807.2,714 810.6,718 816.4,717.7 820.1,716.2 823.7,717.7 827.4,717.7 834.8,725 838.4,724.4 845.5,725 873.3,725 876.4,723.5 880.1,725 886.2,724.7 889.6,724.1 892.9,718.3 896.6,722 900.3,725 908.3,724.1 912.8,723.5 916.8,725 954.2,724.4 965.2,723.2 968.9,724.4 978.1,723.5 983.3,724.1 990.3,725.3" fill="none" stroke="#e3cf7c" stroke-width="1.15" stroke-linejoin="round" />
<rect x="274.5" y="760" width="9.4" height="1.9" fill="#5fb7c6"/>
<rect x="328.4" y="760" width="9.4" height="1.9" fill="#d9a93a"/>
<g stroke="#444448" stroke-width="1.1"><path d="M1066.5 485.8H1757"/><path d="M1066.5 520.1H1757"/><path d="M1066.5 554.4H1757"/><path d="M1066.5 588.7H1757"/><path d="M1066.5 623H1757"/><path d="M1066.5 657H1757"/><path d="M1066.5 691.3H1757"/><path d="M1066.5 725.9H1757"/><path d="M1112.5 485V726"/><path d="M1182.38 485V726"/><path d="M1252.26 485V726"/><path d="M1322.14 485V726"/><path d="M1392.02 485V726"/><path d="M1461.9 485V726"/><path d="M1531.78 485V726"/><path d="M1601.66 485V726"/><path d="M1671.54 485V726"/><path d="M1741.42 485V726"/></g>
<rect x="1089.4" y="486" width="1" height="240" fill="#7f1e21"/>
<polygon points="1066.4,725.4 1066.4,725.3 1070.1,712.5 1073.8,686.5 1077.2,673.3 1080.8,703.3 1084.5,703.9 1087.9,711 1091.5,717.1 1094.9,725.3 1098.3,718 1102,721.7 1112.4,721.7 1116,720.4 1119.7,720.8 1123.4,725.3 1192.6,725.3 1196.2,719.2 1198.7,718 1202.4,711.3 1206,710 1210,697.2 1214,709.4 1217.7,712.5 1220.7,714.3 1224.4,719.8 1228.1,725.3 1231.2,725.3 1234.8,720.4 1238.5,716.2 1241.6,666.6 1245.2,620.6 1248.9,567.1 1252.3,623.1 1255.6,625.2 1259,634.1 1262.4,578.4 1266.1,621.9 1269.7,622.5 1273.4,593.1 1276.5,489.9 1280.1,617.6 1283.5,724.7 1287.5,725.3 1296.7,725.3 1301,718 1307.1,717.4 1310.8,712.5 1314.4,717.1 1318.1,724.7 1321.8,723.2 1325.4,725.3 1335.2,725.3 1338.9,722.3 1342.6,693.2 1346.3,718 1349.9,654.9 1353.3,648.2 1356.7,659.8 1360.4,706.4 1364,713.1 1370.8,718 1376.3,719.2 1381.2,725.3 1405.4,725.3 1409,721.1 1412.4,711.9 1416.1,705.1 1419.7,703.9 1423.4,725.3 1514,725.3 1517.7,718.6 1521.4,718 1524.8,719.2 1528.4,725.3 1538.5,725.3 1542.2,723.2 1545.3,721.7 1548.9,724.7 1552.6,718 1563,718 1566.7,714.9 1570.1,719.2 1573.7,721.1 1580.8,721.1 1584.5,720.4 1591.2,721.7 1598.2,725.3 1636.5,725.3 1640.2,724.1 1643.9,725.3 1650.6,724.7 1654.3,724.1 1657.6,720.8 1661,725.3 1755.9,725.3 1755.9,725.4" fill="url(#g5)"/>
<polyline points="1066.4,725.3 1070.1,712.5 1073.8,686.5 1077.2,673.3 1080.8,703.3 1084.5,703.9 1087.9,711 1091.5,717.1 1094.9,725.3 1098.3,718 1102,721.7 1112.4,721.7 1116,720.4 1119.7,720.8 1123.4,725.3 1192.6,725.3 1196.2,719.2 1198.7,718 1202.4,711.3 1206,710 1210,697.2 1214,709.4 1217.7,712.5 1220.7,714.3 1224.4,719.8 1228.1,725.3 1231.2,725.3 1234.8,720.4 1238.5,716.2 1241.6,666.6 1245.2,620.6 1248.9,567.1 1252.3,623.1 1255.6,625.2 1259,634.1 1262.4,578.4 1266.1,621.9 1269.7,622.5 1273.4,593.1 1276.5,489.9 1280.1,617.6 1283.5,724.7 1287.5,725.3 1296.7,725.3 1301,718 1307.1,717.4 1310.8,712.5 1314.4,717.1 1318.1,724.7 1321.8,723.2 1325.4,725.3 1335.2,725.3 1338.9,722.3 1342.6,693.2 1346.3,718 1349.9,654.9 1353.3,648.2 1356.7,659.8 1360.4,706.4 1364,713.1 1370.8,718 1376.3,719.2 1381.2,725.3 1405.4,725.3 1409,721.1 1412.4,711.9 1416.1,705.1 1419.7,703.9 1423.4,725.3 1514,725.3 1517.7,718.6 1521.4,718 1524.8,719.2 1528.4,725.3 1538.5,725.3 1542.2,723.2 1545.3,721.7 1548.9,724.7 1552.6,718 1563,718 1566.7,714.9 1570.1,719.2 1573.7,721.1 1580.8,721.1 1584.5,720.4 1591.2,721.7 1598.2,725.3 1636.5,725.3 1640.2,724.1 1643.9,725.3 1650.6,724.7 1654.3,724.1 1657.6,720.8 1661,725.3 1755.9,725.3" fill="none" stroke="#80a66f" stroke-width="1.05" stroke-linejoin="round" />
<rect x="1039.5" y="760" width="9.4" height="1.9" fill="#7a9f69"/>
<circle cx="1087.6" cy="711.2" r="2.2" fill="none" stroke="#86ad76" stroke-width="1" opacity="0.8"/>
<path d="M1771.5 775.5h4v-4" fill="none" stroke="#6a6b70" stroke-width="1"/>
<g stroke="#444448" stroke-width="1.1"><path d="M1835.7 485.8H2524"/><path d="M1835.7 522.9H2524"/><path d="M1835.7 559.6H2524"/><path d="M1835.7 596.7H2524"/><path d="M1835.7 633.4H2524"/><path d="M1835.7 670.1H2524"/><path d="M1835.7 706.9H2524"/><path d="M1882.1 485V707"/><path d="M1951.73 485V707"/><path d="M2021.36 485V707"/><path d="M2090.99 485V707"/><path d="M2160.62 485V707"/><path d="M2230.25 485V707"/><path d="M2299.88 485V707"/><path d="M2369.51 485V707"/><path d="M2439.14 485V707"/><path d="M2508.77 485V707"/></g>
<rect x="1859.3" y="486" width="1" height="221" fill="#7f1e21"/>
<polyline points="1836.3,706.1 1860.2,706.1" fill="none" stroke="#cdb24a" stroke-width="1.2"/>
<polyline points="1868.8,706.1 1893.3,706.1" fill="none" stroke="#cdb24a" stroke-width="1.2"/>
<polyline points="1965.5,706.1 1994.3,706.1" fill="none" stroke="#cdb24a" stroke-width="1.2"/>
<polyline points="2006.6,706.1 2055.5,706.1" fill="none" stroke="#cdb24a" stroke-width="1.2"/>
<polyline points="2069.6,706.1 2083.1,706.1" fill="none" stroke="#cdb24a" stroke-width="1.2"/>
<polyline points="2104.5,706.1 2150.5,706.1" fill="none" stroke="#cdb24a" stroke-width="1.2"/>
<polyline points="2178,706.1 2191.8,706.1" fill="none" stroke="#cdb24a" stroke-width="1.2"/>
<polyline points="2285.2,706.1 2294.4,706.1" fill="none" stroke="#cdb24a" stroke-width="1.2"/>
<polyline points="2309.7,706.1 2366.3,706.1" fill="none" stroke="#cdb24a" stroke-width="1.2"/>
<polyline points="2407.6,706.1 2426,706.1" fill="none" stroke="#cdb24a" stroke-width="1.2"/>
<polygon points="1836.3,706.4 1836.3,686.5 1840,701.8 1843.7,705.7 1871.8,706.4 1927,706.4 1930.6,705.7 1934,693.5 1937.7,702.7 1941,690.4 1944.7,705.7 1944.7,706.4" fill="url(#g6)"/>
<polyline points="1836.3,686.5 1840,701.8 1843.7,705.7 1871.8,706.4 1927,706.4 1930.6,705.7 1934,693.5 1937.7,702.7 1941,690.4 1944.7,705.7" fill="none" stroke="#63b6c6" stroke-width="1.2" stroke-linejoin="round" />
<polygon points="1954.5,706.4 1954.5,705.7 1958.2,691.7 1958.2,706.4" fill="url(#g6)"/>
<polyline points="1954.5,705.7 1958.2,691.7" fill="none" stroke="#63b6c6" stroke-width="1.2" stroke-linejoin="round" />
<polygon points="1965.5,706.4 1965.5,705.7 2048.8,705.7 2052.2,691.7 2055.5,694.1 2055.5,706.4" fill="url(#g6)"/>
<polyline points="1965.5,705.7 2048.8,705.7 2052.2,691.7 2055.5,694.1" fill="none" stroke="#63b6c6" stroke-width="1.2" stroke-linejoin="round" />
<polygon points="2062.6,706.4 2062.6,600.7 2066.3,512.3 2069.6,705.7 2083.1,705.7 2083.1,706.4" fill="url(#g6)"/>
<polyline points="2062.6,600.7 2066.3,512.3 2069.6,705.7 2083.1,705.7" fill="none" stroke="#63b6c6" stroke-width="1.2" stroke-linejoin="round" />
<polygon points="2090.4,706.4 2090.4,696.6 2093.8,705.7 2093.8,706.4" fill="url(#g6)"/>
<polyline points="2090.4,696.6 2093.8,705.7" fill="none" stroke="#63b6c6" stroke-width="1.2" stroke-linejoin="round" />
<polygon points="2104.5,706.4 2104.5,705.7 2108.2,703.9 2110.7,705.1 2114.9,697.8 2118.6,705.7 2188.7,705.7 2198.8,684.9 2202.5,702.7 2205.6,705.7 2226.4,705.7 2230.1,703.3 2233.4,676.4 2236.8,690.4 2240.5,661 2240.5,706.4" fill="url(#g6)"/>
<polyline points="2104.5,705.7 2108.2,703.9 2110.7,705.1 2114.9,697.8 2118.6,705.7 2188.7,705.7 2198.8,684.9 2202.5,702.7 2205.6,705.7 2226.4,705.7 2230.1,703.3 2233.4,676.4 2236.8,690.4 2240.5,661" fill="none" stroke="#63b6c6" stroke-width="1.2" stroke-linejoin="round" />
<polygon points="2264,706.4 2264,707 2265.9,706.4 2265.9,706.4" fill="url(#g6)"/>
<polyline points="2264,707 2265.9,706.4" fill="none" stroke="#63b6c6" stroke-width="1.2" stroke-linejoin="round" />
<polygon points="2272.9,706.4 2272.9,705.7 2362.3,705.7 2366,694.7 2369.7,705.1 2372.7,705.7 2372.7,706.4" fill="url(#g6)"/>
<polyline points="2272.9,705.7 2362.3,705.7 2366,694.7 2369.7,705.1 2372.7,705.7" fill="none" stroke="#63b6c6" stroke-width="1.2" stroke-linejoin="round" />
<polygon points="2386.8,706.4 2386.8,594.3 2390.5,700.9 2390.5,706.4" fill="url(#g6)"/>
<polyline points="2386.8,594.3 2390.5,700.9" fill="none" stroke="#63b6c6" stroke-width="1.2" stroke-linejoin="round" />
<polygon points="2407.6,706.4 2407.6,703.9 2411.3,664.4 2414.7,694.1 2418,688.6 2421.7,700.9 2425.4,705.7 2428.5,705.1 2432.1,687.4 2435.8,705.1 2438.9,705.7 2445.9,705.7 2449.6,685.5 2452.9,700.2 2456.6,705.1 2460.3,706.4 2516.3,706.4 2523.4,704.8 2523.4,706.4" fill="url(#g6)"/>
<polyline points="2407.6,703.9 2411.3,664.4 2414.7,694.1 2418,688.6 2421.7,700.9 2425.4,705.7 2428.5,705.1 2432.1,687.4 2435.8,705.1 2438.9,705.7 2445.9,705.7 2449.6,685.5 2452.9,700.2 2456.6,705.1 2460.3,706.4 2516.3,706.4 2523.4,704.8" fill="none" stroke="#63b6c6" stroke-width="1.2" stroke-linejoin="round" />
<rect x="1806.9" y="740.4" width="9.4" height="1.9" fill="#7eb26d"/>
<rect x="1958.2" y="740.4" width="9.4" height="1.9" fill="#e0b13a"/>
<rect x="2108.2" y="740.4" width="9.4" height="1.9" fill="#63c3d4"/>
<rect x="2271.4" y="740.4" width="9.4" height="1.9" fill="#e0803a"/>
<rect x="1806.9" y="760" width="9.4" height="1.9" fill="#e24d42"/>
<rect x="1949.3" y="760" width="9.4" height="1.9" fill="#1f78c1"/>
<rect x="2090.2" y="760" width="9.4" height="1.9" fill="#ba43a9"/>
<g stroke="#444448" stroke-width="1.1"><path d="M296 827.8H1005"/><path d="M296 890.9H1005"/><path d="M296 954H1005"/><path d="M296 1017H1005"/><path d="M296 1080.4H1005"/></g>
<rect x="410.1" y="858.4" width="124.4" height="221.8" fill="#70d1e1"/>
<rect x="588" y="860" width="124.1" height="220.2" fill="#ff7383"/>
<rect x="765.3" y="1078.3" width="124.6" height="1.9" fill="#96d98d"/>
<rect x="274.5" y="1101.5" width="9.4" height="1.9" fill="#5cc4d6"/>
<rect x="411.4" y="1101.5" width="9.4" height="1.9" fill="#f2606f"/>
<rect x="547.9" y="1101.5" width="9.4" height="1.9" fill="#86c67c"/>
<g stroke="#444448" stroke-width="1.1"><path d="M1061 827.8H1771"/><path d="M1061 869.5H1771"/><path d="M1061 911.7H1771"/><path d="M1061 954H1771"/><path d="M1061 995.9H1771"/><path d="M1061 1038.2H1771"/><path d="M1061 1080.4H1771"/></g>
<rect x="1175.1" y="862.4" width="125" height="217.8" fill="#70d1e1"/>
<rect x="1353" y="865.2" width="124.7" height="215" fill="#ff7383"/>
<rect x="1530.9" y="1077.1" width="124.7" height="3.1" fill="#96d98d"/>
<rect x="1039.5" y="1101.5" width="9.4" height="1.9" fill="#5cc4d6"/>
<rect x="1177.3" y="1101.5" width="9.4" height="1.9" fill="#f2606f"/>
<rect x="1314.2" y="1101.5" width="9.4" height="1.9" fill="#86c67c"/>
<path d="M2166.8 892.7L2166.80 828.10A64.6 64.6 0 0 1 2190.39 832.56Z" fill="#7eb26d" stroke="#17181b" stroke-width="2.1" stroke-linejoin="round"/>
<path d="M2166.8 892.7L2190.39 832.56A64.6 64.6 0 0 1 2216.73 933.69Z" fill="#eab839" stroke="#17181b" stroke-width="2.1" stroke-linejoin="round"/>
<path d="M2166.8 892.7L2216.73 933.69A64.6 64.6 0 0 1 2191.90 952.23Z" fill="#6ed0e0" stroke="#17181b" stroke-width="2.1" stroke-linejoin="round"/>
<path d="M2166.8 892.7L2191.90 952.23A64.6 64.6 0 0 1 2151.17 955.38Z" fill="#ef843c" stroke="#17181b" stroke-width="2.1" stroke-linejoin="round"/>
<path d="M2166.8 892.7L2151.17 955.38A64.6 64.6 0 0 1 2148.93 954.78Z" fill="#e24d42" stroke="#17181b" stroke-width="2.1" stroke-linejoin="round"/>
<path d="M2166.8 892.7L2148.93 954.78A64.6 64.6 0 0 1 2127.33 943.84Z" fill="#1f78c1" stroke="#17181b" stroke-width="2.1" stroke-linejoin="round"/>
<path d="M2166.8 892.7L2127.33 943.84A64.6 64.6 0 0 1 2112.56 927.79Z" fill="#ba43a9" stroke="#17181b" stroke-width="2.1" stroke-linejoin="round"/>
<path d="M2166.8 892.7L2112.56 927.79A64.6 64.6 0 0 1 2103.53 905.76Z" fill="#705da0" stroke="#17181b" stroke-width="2.1" stroke-linejoin="round"/>
<path d="M2166.8 892.7L2103.53 905.76A64.6 64.6 0 0 1 2115.53 853.40Z" fill="#508642" stroke="#17181b" stroke-width="2.1" stroke-linejoin="round"/>
<path d="M2166.8 892.7L2115.53 853.40A64.6 64.6 0 0 1 2118.64 849.65Z" fill="#cca300" stroke="#17181b" stroke-width="2.1" stroke-linejoin="round"/>
<path d="M2166.8 892.7L2118.64 849.65A64.6 64.6 0 0 1 2131.88 838.35Z" fill="#447ebc" stroke="#17181b" stroke-width="2.1" stroke-linejoin="round"/>
<path d="M2166.8 892.7L2131.88 838.35A64.6 64.6 0 0 1 2149.60 830.43Z" fill="#c15c17" stroke="#17181b" stroke-width="2.1" stroke-linejoin="round"/>
<path d="M2166.8 892.7L2149.60 830.43A64.6 64.6 0 0 1 2166.80 828.10Z" fill="#890f02" stroke="#17181b" stroke-width="2.1" stroke-linejoin="round"/>
</svg>
<div style="position:absolute;left:1108.4px;top:516px;width:207.4px;height:49.6px;background:#161617;border-radius:4px;"></div>
<div style="position:absolute;left:1119.1px;top:546.6px;width:8.2px;height:2.4px;background:#86b374;border-radius:1px;"></div>
<span class="t" id="t0" style="top:4.8px;font-size:13px;color:#dfe0e6;left:8.5px;transform-origin:0 50%;transform:scaleX(1.0064);"><i>Home</i></span>
<span class="t" id="t1" style="top:3.8px;font-size:13px;color:#dfe0e6;left:72.0px;transform-origin:0 50%;transform:scaleX(0.9613);"><i>37 - Low-End Router AppMix-Attacks</i></span>
<span class="t" id="t2" style="top:4.8px;font-size:13px;color:#a9aab3;left:305.5px;transform-origin:0 50%;transform:scaleX(1.0268);"><i>Statistics</i></span>
<span class="t" id="t3" style="top:3.5px;font-size:13px;color:#d9dae0;left:2394.2px;transform-origin:0 50%;transform:scaleX(0.9487);"><i>Overview</i></span>
<span class="t" id="t4" style="top:3.5px;font-size:13px;color:#6e9bf5;left:2477.1px;transform-origin:0 50%;transform:scaleX(1.0287);"><i>Statistics</i></span>
<span class="t" id="t5" style="top:40.5px;font-size:13px;color:#dcdde2;-webkit-text-stroke:0.3px #dcdde2;left:35.0px;transform-origin:0 50%;transform:scaleX(0.9074);"><i>STOP TEST</i></span>
<span class="t" id="t6" style="top:40.5px;font-size:13px;color:#dcdde2;-webkit-text-stroke:0.3px #dcdde2;left:149.0px;transform-origin:0 50%;transform:scaleX(0.9010);"><i>ABORT TEST</i></span>
<span class="t" id="t7" style="top:42.2px;font-size:14px;color:#f2f2f5;left:2376.4px;transform-origin:0 50%;transform:scaleX(0.9744);"><i>00:39:22 / 01:40:00</i></span>
<span class="t" id="t8" style="top:82.0px;font-size:16px;color:#ffffff;-webkit-text-stroke:0.3px #ffffff;left:11.4px;transform-origin:0 50%;transform:scaleX(1.0093);"><i>Detailed views</i></span>
<span class="t" id="t9" style="top:136.5px;font-size:12.5px;color:#a4a5ac;-webkit-text-stroke:0.3px #a4a5ac;font-style:italic;left:14.1px;transform-origin:0 50%;transform:scaleX(1.0091);"><i>Filter views by name</i></span>
<span class="t" id="t10" style="top:176.9px;font-size:12.2px;color:#ffffff;font-weight:700;left:11.5px;transform-origin:0 50%;transform:scaleX(0.9875);"><i>Summary</i></span>
<span class="t" id="t11" style="top:207.9px;font-size:12.2px;color:#d0d1d6;font-weight:700;left:11.5px;transform-origin:0 50%;transform:scaleX(0.9716);"><i>Client Application Profile</i></span>
<span class="t" id="t12" style="top:238.5px;font-size:12.2px;color:#d0d1d6;font-weight:700;left:11.5px;transform-origin:0 50%;transform:scaleX(0.9826);"><i>Client Attack Profile</i></span>
<span class="t" id="t13" style="top:269.1px;font-size:12.2px;color:#d0d1d6;font-weight:700;left:11.5px;transform-origin:0 50%;transform:scaleX(0.9836);"><i>Client Aggregated HTTP Statistics</i></span>
<span class="t" id="t14" style="top:299.6px;font-size:12.2px;color:#d0d1d6;font-weight:700;left:11.5px;transform-origin:0 50%;transform:scaleX(0.9723);"><i>Client Statistics per Action</i></span>
<span class="t" id="t15" style="top:330.2px;font-size:12.2px;color:#d0d1d6;font-weight:700;left:11.5px;transform-origin:0 50%;transform:scaleX(0.9720);"><i>Server Statistics</i></span>
<span class="t" id="t16" style="top:360.8px;font-size:12.2px;color:#d0d1d6;font-weight:700;left:11.5px;transform-origin:0 50%;transform:scaleX(0.9834);"><i>Server HTTP Statistics</i></span>
<span class="t" id="t17" style="top:391.4px;font-size:12.2px;color:#d0d1d6;font-weight:700;left:11.5px;transform-origin:0 50%;transform:scaleX(0.9831);"><i>TCP Statistics</i></span>
<span class="t" id="t18" style="top:422.0px;font-size:12.2px;color:#d0d1d6;font-weight:700;left:11.5px;transform-origin:0 50%;transform:scaleX(0.9757);"><i>Agent Traffic Statistics</i></span>
<span class="t" id="t19" style="top:452.5px;font-size:12.2px;color:#d0d1d6;font-weight:700;left:11.5px;transform-origin:0 50%;transform:scaleX(0.9772);"><i>Agent Resource Metrics</i></span>
<span class="t" id="t20" style="top:483.1px;font-size:12.2px;color:#d0d1d6;font-weight:700;left:11.5px;transform-origin:0 50%;transform:scaleX(0.9703);"><i>All Strikes</i></span>
<span class="t" id="t21" style="top:513.7px;font-size:12.2px;color:#d0d1d6;font-weight:700;left:11.5px;transform-origin:0 50%;transform:scaleX(0.9846);"><i>AWS S3</i></span>
<span class="t" id="t22" style="top:544.3px;font-size:12.2px;color:#d0d1d6;font-weight:700;left:11.5px;transform-origin:0 50%;transform:scaleX(0.9696);"><i>CVE10-Exploits</i></span>
<span class="t" id="t23" style="top:574.9px;font-size:12.2px;color:#d0d1d6;font-weight:700;left:11.5px;transform-origin:0 50%;transform:scaleX(0.9904);"><i>ChatGPT4</i></span>
<span class="t" id="t24" style="top:605.4px;font-size:12.2px;color:#d0d1d6;font-weight:700;left:11.5px;transform-origin:0 50%;transform:scaleX(0.9558);"><i>Ebay</i></span>
<span class="t" id="t25" style="top:636.0px;font-size:12.2px;color:#d0d1d6;font-weight:700;left:11.5px;transform-origin:0 50%;transform:scaleX(1.0357);"><i>FTP</i></span>
<span class="t" id="t26" style="top:666.6px;font-size:12.2px;color:#d0d1d6;font-weight:700;left:11.5px;transform-origin:0 50%;transform:scaleX(0.9815);"><i>Facebook</i></span>
<span class="t" id="t27" style="top:697.2px;font-size:12.2px;color:#d0d1d6;font-weight:700;left:11.5px;transform-origin:0 50%;transform:scaleX(0.9846);"><i>Gmail</i></span>
<span class="t" id="t28" style="top:727.8px;font-size:12.2px;color:#d0d1d6;font-weight:700;left:11.5px;transform-origin:0 50%;transform:scaleX(1.0322);"><i>HTTP</i></span>
<span class="t" id="t29" style="top:758.3px;font-size:12.2px;color:#d0d1d6;font-weight:700;left:11.5px;transform-origin:0 50%;transform:scaleX(0.9932);"><i>Instagram</i></span>
<span class="t" id="t30" style="top:788.9px;font-size:12.2px;color:#d0d1d6;font-weight:700;left:11.5px;transform-origin:0 50%;transform:scaleX(1.0307);"><i>Jira</i></span>
<span class="t" id="t31" style="top:819.5px;font-size:12.2px;color:#d0d1d6;font-weight:700;left:11.5px;transform-origin:0 50%;transform:scaleX(0.9731);"><i>MySQL</i></span>
<span class="t" id="t32" style="top:850.1px;font-size:12.2px;color:#d0d1d6;font-weight:700;left:11.5px;transform-origin:0 50%;transform:scaleX(0.9862);"><i>Office365 Outlook</i></span>
<span class="t" id="t33" style="top:880.7px;font-size:12.2px;color:#d0d1d6;font-weight:700;left:11.5px;transform-origin:0 50%;transform:scaleX(0.9780);"><i>Ransomware-List</i></span>
<span class="t" id="t34" style="top:911.2px;font-size:12.2px;color:#d0d1d6;font-weight:700;left:11.5px;transform-origin:0 50%;transform:scaleX(1.0177);"><i>Twitch</i></span>
<span class="t" id="t35" style="top:941.8px;font-size:12.2px;color:#d0d1d6;font-weight:700;left:11.5px;transform-origin:0 50%;transform:scaleX(1.0075);"><i>X.com</i></span>
<span class="t" id="t36" style="top:85.6px;font-size:15.3px;color:#e3e4e8;left:278.2px;transform-origin:0 50%;transform:scaleX(1.0561);"><i>appsec-91f3e26e-2d0a-40a6-84f1-26cd61255dce / Summary</i></span>
<span class="t" id="t37" style="top:85.3px;font-size:13px;color:#9fa1a8;-webkit-text-stroke:0.3px #9fa1a8;left:2280.1px;transform-origin:0 50%;transform:scaleX(0.9911);"><i>now-600s to now-7s</i></span>
<span class="t" id="t38" style="top:85.4px;font-size:12.8px;color:#f47b20;font-weight:700;left:2502.8px;transform-origin:0 50%;transform:scaleX(0.9502);"><i>10s</i></span>
<span class="t" id="t39" style="top:131.6px;font-size:10.8px;color:#c9cacd;-webkit-text-stroke:0.3px #c9cacd;right:2249.4px;transform-origin:100% 50%;transform:scaleX(0.9650);"><i>4.0 Gbps</i></span>
<span class="t" id="t40" style="top:191.3px;font-size:10.8px;color:#c9cacd;-webkit-text-stroke:0.3px #c9cacd;right:2249.4px;transform-origin:100% 50%;transform:scaleX(0.9650);"><i>3.0 Gbps</i></span>
<span class="t" id="t41" style="top:251.6px;font-size:10.8px;color:#c9cacd;-webkit-text-stroke:0.3px #c9cacd;right:2249.4px;transform-origin:100% 50%;transform:scaleX(0.9650);"><i>2.0 Gbps</i></span>
<span class="t" id="t42" style="top:311.6px;font-size:10.8px;color:#c9cacd;-webkit-text-stroke:0.3px #c9cacd;right:2249.4px;transform-origin:100% 50%;transform:scaleX(0.9650);"><i>1.0 Gbps</i></span>
<span class="t" id="t43" style="top:371.2px;font-size:10.8px;color:#c9cacd;-webkit-text-stroke:0.3px #c9cacd;right:2249.4px;transform-origin:100% 50%;transform:scaleX(0.9650);"><i>0 bps</i></span>
<span class="t" id="t44" style="top:386.2px;font-size:10.8px;color:#c9cacd;-webkit-text-stroke:0.3px #c9cacd;left:56.1px;width:600px;text-align:center;transform-origin:50% 50%;transform:scaleX(1.0052);"><i>11:47</i></span>
<span class="t" id="t45" style="top:386.2px;font-size:10.8px;color:#c9cacd;-webkit-text-stroke:0.3px #c9cacd;left:125.0px;width:600px;text-align:center;transform-origin:50% 50%;transform:scaleX(1.0052);"><i>11:48</i></span>
<span class="t" id="t46" style="top:386.2px;font-size:10.8px;color:#c9cacd;-webkit-text-stroke:0.3px #c9cacd;left:193.9px;width:600px;text-align:center;transform-origin:50% 50%;transform:scaleX(1.0052);"><i>11:49</i></span>
<span class="t" id="t47" style="top:386.2px;font-size:10.8px;color:#c9cacd;-webkit-text-stroke:0.3px #c9cacd;left:262.8px;width:600px;text-align:center;transform-origin:50% 50%;transform:scaleX(1.0052);"><i>11:50</i></span>
<span class="t" id="t48" style="top:386.2px;font-size:10.8px;color:#c9cacd;-webkit-text-stroke:0.3px #c9cacd;left:331.7px;width:600px;text-align:center;transform-origin:50% 50%;transform:scaleX(1.0052);"><i>11:51</i></span>
<span class="t" id="t49" style="top:386.2px;font-size:10.8px;color:#c9cacd;-webkit-text-stroke:0.3px #c9cacd;left:400.6px;width:600px;text-align:center;transform-origin:50% 50%;transform:scaleX(1.0052);"><i>11:52</i></span>
<span class="t" id="t50" style="top:386.2px;font-size:10.8px;color:#c9cacd;-webkit-text-stroke:0.3px #c9cacd;left:469.5px;width:600px;text-align:center;transform-origin:50% 50%;transform:scaleX(1.0052);"><i>11:53</i></span>
<span class="t" id="t51" style="top:386.2px;font-size:10.8px;color:#c9cacd;-webkit-text-stroke:0.3px #c9cacd;left:538.4px;width:600px;text-align:center;transform-origin:50% 50%;transform:scaleX(1.0052);"><i>11:54</i></span>
<span class="t" id="t52" style="top:386.2px;font-size:10.8px;color:#c9cacd;-webkit-text-stroke:0.3px #c9cacd;left:607.3px;width:600px;text-align:center;transform-origin:50% 50%;transform:scaleX(1.0052);"><i>11:55</i></span>
<span class="t" id="t53" style="top:386.2px;font-size:10.8px;color:#c9cacd;-webkit-text-stroke:0.3px #c9cacd;left:676.2px;width:600px;text-align:center;transform-origin:50% 50%;transform:scaleX(1.0052);"><i>11:56</i></span>
<span class="t" id="t54" style="top:408.2px;font-size:11.3px;color:#d2d3d6;-webkit-text-stroke:0.3px #d2d3d6;left:289.0px;transform-origin:0 50%;transform:scaleX(0.9654);"><i>Client</i></span>
<span class="t" id="t55" style="top:408.2px;font-size:11.3px;color:#d2d3d6;-webkit-text-stroke:0.3px #d2d3d6;left:343.2px;transform-origin:0 50%;transform:scaleX(0.9222);"><i>Server</i></span>
<span class="t" id="t56" style="top:105.2px;font-size:12.8px;color:#dcdde0;-webkit-text-stroke:0.5px #dcdde0;left:325.8px;width:600px;text-align:center;transform-origin:50% 50%;transform:scaleX(0.9972);clip-path:inset(15.8px 0 0 0);"><i>Layer 4/7 Throughput</i></span>
<span class="t" id="t57" style="top:131.6px;font-size:10.8px;color:#c9cacd;-webkit-text-stroke:0.3px #c9cacd;right:1507.8px;transform-origin:100% 50%;transform:scaleX(0.9650);"><i>125</i></span>
<span class="t" id="t58" style="top:179.6px;font-size:10.8px;color:#c9cacd;-webkit-text-stroke:0.3px #c9cacd;right:1507.8px;transform-origin:100% 50%;transform:scaleX(0.9650);"><i>100</i></span>
<span class="t" id="t59" style="top:227.5px;font-size:10.8px;color:#c9cacd;-webkit-text-stroke:0.3px #c9cacd;right:1507.8px;transform-origin:100% 50%;transform:scaleX(0.9650);"><i>75</i></span>
<span class="t" id="t60" style="top:275.4px;font-size:10.8px;color:#c9cacd;-webkit-text-stroke:0.3px #c9cacd;right:1507.8px;transform-origin:100% 50%;transform:scaleX(0.9650);"><i>50</i></span>
<span class="t" id="t61" style="top:323.6px;font-size:10.8px;color:#c9cacd;-webkit-text-stroke:0.3px #c9cacd;right:1507.8px;transform-origin:100% 50%;transform:scaleX(0.9650);"><i>25</i></span>
<span class="t" id="t62" style="top:371.2px;font-size:10.8px;color:#c9cacd;-webkit-text-stroke:0.3px #c9cacd;right:1507.8px;transform-origin:100% 50%;transform:scaleX(0.9650);"><i>0</i></span>
<span class="t" id="t63" style="top:386.2px;font-size:10.8px;color:#c9cacd;-webkit-text-stroke:0.3px #c9cacd;left:798.8px;width:600px;text-align:center;transform-origin:50% 50%;transform:scaleX(1.0052);"><i>11:47</i></span>
<span class="t" id="t64" style="top:386.2px;font-size:10.8px;color:#c9cacd;-webkit-text-stroke:0.3px #c9cacd;left:870.2px;width:600px;text-align:center;transform-origin:50% 50%;transform:scaleX(1.0052);"><i>11:48</i></span>
<span class="t" id="t65" style="top:386.2px;font-size:10.8px;color:#c9cacd;-webkit-text-stroke:0.3px #c9cacd;left:941.6px;width:600px;text-align:center;transform-origin:50% 50%;transform:scaleX(1.0052);"><i>11:49</i></span>
<span class="t" id="t66" style="top:386.2px;font-size:10.8px;color:#c9cacd;-webkit-text-stroke:0.3px #c9cacd;left:1013.0px;width:600px;text-align:center;transform-origin:50% 50%;transform:scaleX(1.0052);"><i>11:50</i></span>
<span class="t" id="t67" style="top:386.2px;font-size:10.8px;color:#c9cacd;-webkit-text-stroke:0.3px #c9cacd;left:1084.4px;width:600px;text-align:center;transform-origin:50% 50%;transform:scaleX(1.0052);"><i>11:51</i></span>
<span class="t" id="t68" style="top:386.2px;font-size:10.8px;color:#c9cacd;-webkit-text-stroke:0.3px #c9cacd;left:1155.8px;width:600px;text-align:center;transform-origin:50% 50%;transform:scaleX(1.0052);"><i>11:52</i></span>
<span class="t" id="t69" style="top:386.2px;font-size:10.8px;color:#c9cacd;-webkit-text-stroke:0.3px #c9cacd;left:1227.2px;width:600px;text-align:center;transform-origin:50% 50%;transform:scaleX(1.0052);"><i>11:53</i></span>
<span class="t" id="t70" style="top:386.2px;font-size:10.8px;color:#c9cacd;-webkit-text-stroke:0.3px #c9cacd;left:1298.6px;width:600px;text-align:center;transform-origin:50% 50%;transform:scaleX(1.0052);"><i>11:54</i></span>
<span class="t" id="t71" style="top:386.2px;font-size:10.8px;color:#c9cacd;-webkit-text-stroke:0.3px #c9cacd;left:1370.0px;width:600px;text-align:center;transform-origin:50% 50%;transform:scaleX(1.0052);"><i>11:55</i></span>
<span class="t" id="t72" style="top:386.2px;font-size:10.8px;color:#c9cacd;-webkit-text-stroke:0.3px #c9cacd;left:1441.4px;width:600px;text-align:center;transform-origin:50% 50%;transform:scaleX(1.0052);"><i>11:56</i></span>
<span class="t" id="t73" style="top:408.2px;font-size:11.3px;color:#d2d3d6;-webkit-text-stroke:0.3px #d2d3d6;left:1054.9px;transform-origin:0 50%;transform:scaleX(0.9309);"><i>User Count</i></span>
<span class="t" id="t74" style="top:408.2px;font-size:11.3px;color:#d2d3d6;-webkit-text-stroke:0.3px #d2d3d6;left:1135.1px;transform-origin:0 50%;transform:scaleX(0.9455);"><i>Concurrent Connections</i></span>
<span class="t" id="t75" style="top:105.2px;font-size:12.8px;color:#dcdde0;-webkit-text-stroke:0.5px #dcdde0;left:1099.5px;width:600px;text-align:center;transform-origin:50% 50%;transform:scaleX(1.0797);clip-path:inset(15.8px 0 0 0);"><i>Application Transaction Rate</i></span>
<span class="t" id="t76" style="top:131.6px;font-size:10.8px;color:#c9cacd;-webkit-text-stroke:0.3px #c9cacd;right:714.1px;transform-origin:100% 50%;transform:scaleX(0.9650);"><i>5,000</i></span>
<span class="t" id="t77" style="top:179.6px;font-size:10.8px;color:#c9cacd;-webkit-text-stroke:0.3px #c9cacd;right:714.1px;transform-origin:100% 50%;transform:scaleX(0.9650);"><i>4,000</i></span>
<span class="t" id="t78" style="top:227.5px;font-size:10.8px;color:#c9cacd;-webkit-text-stroke:0.3px #c9cacd;right:714.1px;transform-origin:100% 50%;transform:scaleX(0.9650);"><i>3,000</i></span>
<span class="t" id="t79" style="top:275.4px;font-size:10.8px;color:#c9cacd;-webkit-text-stroke:0.3px #c9cacd;right:714.1px;transform-origin:100% 50%;transform:scaleX(0.9650);"><i>2,000</i></span>
<span class="t" id="t80" style="top:323.6px;font-size:10.8px;color:#c9cacd;-webkit-text-stroke:0.3px #c9cacd;right:714.1px;transform-origin:100% 50%;transform:scaleX(0.9650);"><i>1,000</i></span>
<span class="t" id="t81" style="top:371.2px;font-size:10.8px;color:#c9cacd;-webkit-text-stroke:0.3px #c9cacd;right:714.1px;transform-origin:100% 50%;transform:scaleX(0.9650);"><i>0</i></span>
<span class="t" id="t82" style="top:386.2px;font-size:10.8px;color:#c9cacd;-webkit-text-stroke:0.3px #c9cacd;left:1590.3px;width:600px;text-align:center;transform-origin:50% 50%;transform:scaleX(1.0052);"><i>11:47</i></span>
<span class="t" id="t83" style="top:386.2px;font-size:10.8px;color:#c9cacd;-webkit-text-stroke:0.3px #c9cacd;left:1659.1px;width:600px;text-align:center;transform-origin:50% 50%;transform:scaleX(1.0052);"><i>11:48</i></span>
<span class="t" id="t84" style="top:386.2px;font-size:10.8px;color:#c9cacd;-webkit-text-stroke:0.3px #c9cacd;left:1727.9px;width:600px;text-align:center;transform-origin:50% 50%;transform:scaleX(1.0052);"><i>11:49</i></span>
<span class="t" id="t85" style="top:386.2px;font-size:10.8px;color:#c9cacd;-webkit-text-stroke:0.3px #c9cacd;left:1796.7px;width:600px;text-align:center;transform-origin:50% 50%;transform:scaleX(1.0052);"><i>11:50</i></span>
<span class="t" id="t86" style="top:386.2px;font-size:10.8px;color:#c9cacd;-webkit-text-stroke:0.3px #c9cacd;left:1865.5px;width:600px;text-align:center;transform-origin:50% 50%;transform:scaleX(1.0052);"><i>11:51</i></span>
<span class="t" id="t87" style="top:386.2px;font-size:10.8px;color:#c9cacd;-webkit-text-stroke:0.3px #c9cacd;left:1934.3px;width:600px;text-align:center;transform-origin:50% 50%;transform:scaleX(1.0052);"><i>11:52</i></span>
<span class="t" id="t88" style="top:386.2px;font-size:10.8px;color:#c9cacd;-webkit-text-stroke:0.3px #c9cacd;left:2003.1px;width:600px;text-align:center;transform-origin:50% 50%;transform:scaleX(1.0052);"><i>11:53</i></span>
<span class="t" id="t89" style="top:386.2px;font-size:10.8px;color:#c9cacd;-webkit-text-stroke:0.3px #c9cacd;left:2071.9px;width:600px;text-align:center;transform-origin:50% 50%;transform:scaleX(1.0052);"><i>11:54</i></span>
<span class="t" id="t90" style="top:386.2px;font-size:10.8px;color:#c9cacd;-webkit-text-stroke:0.3px #c9cacd;left:2140.7px;width:600px;text-align:center;transform-origin:50% 50%;transform:scaleX(1.0052);"><i>11:55</i></span>
<span class="t" id="t91" style="top:386.2px;font-size:10.8px;color:#c9cacd;-webkit-text-stroke:0.3px #c9cacd;left:2209.5px;width:600px;text-align:center;transform-origin:50% 50%;transform:scaleX(1.0052);"><i>11:56</i></span>
<span class="t" id="t92" style="top:408.2px;font-size:11.3px;color:#d2d3d6;-webkit-text-stroke:0.3px #d2d3d6;left:1822.0px;transform-origin:0 50%;transform:scaleX(0.9619);"><i>Connections Initiated</i></span>
<span class="t" id="t93" style="top:408.2px;font-size:11.3px;color:#d2d3d6;-webkit-text-stroke:0.3px #d2d3d6;left:1950.1px;transform-origin:0 50%;transform:scaleX(0.9414);"><i>Connections Succeeded</i></span>
<span class="t" id="t94" style="top:408.2px;font-size:11.3px;color:#d2d3d6;-webkit-text-stroke:0.3px #d2d3d6;left:2091.7px;transform-origin:0 50%;transform:scaleX(0.9501);"><i>Connections Failed</i></span>
<span class="t" id="t95" style="top:105.2px;font-size:12.8px;color:#dcdde0;-webkit-text-stroke:0.5px #dcdde0;left:1866.5px;width:600px;text-align:center;transform-origin:50% 50%;transform:scaleX(1.0477);clip-path:inset(15.8px 0 0 0);"><i>Application Connections Rate</i></span>
<span class="t" id="t96" style="top:258.6px;font-size:11.5px;color:#c9cacd;-webkit-text-stroke:0.3px #c9cacd;left:1501.3px;width:600px;text-align:center;transform-origin:50% 50%;transform:rotate(-90deg) scaleX(0.9339);"><i>Connections Per Second</i></span>
<span class="t" id="t97" style="top:473.9px;font-size:10.8px;color:#c9cacd;-webkit-text-stroke:0.3px #c9cacd;right:2249.4px;transform-origin:100% 50%;transform:scaleX(0.9650);"><i>5.0 Gbps</i></span>
<span class="t" id="t98" style="top:521.7px;font-size:10.8px;color:#c9cacd;-webkit-text-stroke:0.3px #c9cacd;right:2249.4px;transform-origin:100% 50%;transform:scaleX(0.9650);"><i>4.0 Gbps</i></span>
<span class="t" id="t99" style="top:569.4px;font-size:10.8px;color:#c9cacd;-webkit-text-stroke:0.3px #c9cacd;right:2249.4px;transform-origin:100% 50%;transform:scaleX(0.9650);"><i>3.0 Gbps</i></span>
<span class="t" id="t100" style="top:617.8px;font-size:10.8px;color:#c9cacd;-webkit-text-stroke:0.3px #c9cacd;right:2249.4px;transform-origin:100% 50%;transform:scaleX(0.9650);"><i>2.0 Gbps</i></span>
<span class="t" id="t101" style="top:665.9px;font-size:10.8px;color:#c9cacd;-webkit-text-stroke:0.3px #c9cacd;right:2249.4px;transform-origin:100% 50%;transform:scaleX(0.9650);"><i>1.0 Gbps</i></span>
<span class="t" id="t102" style="top:714.0px;font-size:10.8px;color:#c9cacd;-webkit-text-stroke:0.3px #c9cacd;right:2249.4px;transform-origin:100% 50%;transform:scaleX(0.9650);"><i>0 bps</i></span>
<span class="t" id="t103" style="top:728.0px;font-size:10.8px;color:#c9cacd;-webkit-text-stroke:0.3px #c9cacd;left:56.2px;width:600px;text-align:center;transform-origin:50% 50%;transform:scaleX(1.0052);"><i>11:47</i></span>
<span class="t" id="t104" style="top:728.0px;font-size:10.8px;color:#c9cacd;-webkit-text-stroke:0.3px #c9cacd;left:125.1px;width:600px;text-align:center;transform-origin:50% 50%;transform:scaleX(1.0052);"><i>11:48</i></span>
<span class="t" id="t105" style="top:728.0px;font-size:10.8px;color:#c9cacd;-webkit-text-stroke:0.3px #c9cacd;left:194.0px;width:600px;text-align:center;transform-origin:50% 50%;transform:scaleX(1.0052);"><i>11:49</i></span>
<span class="t" id="t106" style="top:728.0px;font-size:10.8px;color:#c9cacd;-webkit-text-stroke:0.3px #c9cacd;left:262.9px;width:600px;text-align:center;transform-origin:50% 50%;transform:scaleX(1.0052);"><i>11:50</i></span>
<span class="t" id="t107" style="top:728.0px;font-size:10.8px;color:#c9cacd;-webkit-text-stroke:0.3px #c9cacd;left:331.8px;width:600px;text-align:center;transform-origin:50% 50%;transform:scaleX(1.0052);"><i>11:51</i></span>
<span class="t" id="t108" style="top:728.0px;font-size:10.8px;color:#c9cacd;-webkit-text-stroke:0.3px #c9cacd;left:400.7px;width:600px;text-align:center;transform-origin:50% 50%;transform:scaleX(1.0052);"><i>11:52</i></span>
<span class="t" id="t109" style="top:728.0px;font-size:10.8px;color:#c9cacd;-webkit-text-stroke:0.3px #c9cacd;left:469.6px;width:600px;text-align:center;transform-origin:50% 50%;transform:scaleX(1.0052);"><i>11:53</i></span>
<span class="t" id="t110" style="top:728.0px;font-size:10.8px;color:#c9cacd;-webkit-text-stroke:0.3px #c9cacd;left:538.5px;width:600px;text-align:center;transform-origin:50% 50%;transform:scaleX(1.0052);"><i>11:54</i></span>
<span class="t" id="t111" style="top:728.0px;font-size:10.8px;color:#c9cacd;-webkit-text-stroke:0.3px #c9cacd;left:607.4px;width:600px;text-align:center;transform-origin:50% 50%;transform:scaleX(1.0052);"><i>11:55</i></span>
<span class="t" id="t112" style="top:728.0px;font-size:10.8px;color:#c9cacd;-webkit-text-stroke:0.3px #c9cacd;left:676.3px;width:600px;text-align:center;transform-origin:50% 50%;transform:scaleX(1.0052);"><i>11:56</i></span>
<span class="t" id="t113" style="top:750.4px;font-size:11.3px;color:#d2d3d6;-webkit-text-stroke:0.3px #d2d3d6;left:289.0px;transform-origin:0 50%;transform:scaleX(0.9654);"><i>Client</i></span>
<span class="t" id="t114" style="top:750.4px;font-size:11.3px;color:#d2d3d6;-webkit-text-stroke:0.3px #d2d3d6;left:343.2px;transform-origin:0 50%;transform:scaleX(0.9222);"><i>Server</i></span>
<span class="t" id="t115" style="top:447.4px;font-size:12.8px;color:#dcdde0;-webkit-text-stroke:0.5px #dcdde0;left:325.8px;width:600px;text-align:center;transform-origin:50% 50%;transform:scaleX(0.9972);"><i>Layer 2/3 Throughput</i></span>
<span class="t" id="t116" style="top:473.9px;font-size:10.8px;color:#c9cacd;-webkit-text-stroke:0.3px #c9cacd;right:1493.6px;transform-origin:100% 50%;transform:scaleX(0.9650);"><i>35,000</i></span>
<span class="t" id="t117" style="top:508.2px;font-size:10.8px;color:#c9cacd;-webkit-text-stroke:0.3px #c9cacd;right:1493.6px;transform-origin:100% 50%;transform:scaleX(0.9650);"><i>30,000</i></span>
<span class="t" id="t118" style="top:542.5px;font-size:10.8px;color:#c9cacd;-webkit-text-stroke:0.3px #c9cacd;right:1493.6px;transform-origin:100% 50%;transform:scaleX(0.9650);"><i>25,000</i></span>
<span class="t" id="t119" style="top:576.8px;font-size:10.8px;color:#c9cacd;-webkit-text-stroke:0.3px #c9cacd;right:1493.6px;transform-origin:100% 50%;transform:scaleX(0.9650);"><i>20,000</i></span>
<span class="t" id="t120" style="top:611.1px;font-size:10.8px;color:#c9cacd;-webkit-text-stroke:0.3px #c9cacd;right:1493.6px;transform-origin:100% 50%;transform:scaleX(0.9650);"><i>15,000</i></span>
<span class="t" id="t121" style="top:645.1px;font-size:10.8px;color:#c9cacd;-webkit-text-stroke:0.3px #c9cacd;right:1493.6px;transform-origin:100% 50%;transform:scaleX(0.9650);"><i>10,000</i></span>
<span class="t" id="t122" style="top:679.4px;font-size:10.8px;color:#c9cacd;-webkit-text-stroke:0.3px #c9cacd;right:1493.6px;transform-origin:100% 50%;transform:scaleX(0.9650);"><i>5,000</i></span>
<span class="t" id="t123" style="top:714.0px;font-size:10.8px;color:#c9cacd;-webkit-text-stroke:0.3px #c9cacd;right:1493.6px;transform-origin:100% 50%;transform:scaleX(0.9650);"><i>0</i></span>
<span class="t" id="t124" style="top:728.0px;font-size:10.8px;color:#c9cacd;-webkit-text-stroke:0.3px #c9cacd;left:812.4px;width:600px;text-align:center;transform-origin:50% 50%;transform:scaleX(1.0052);"><i>11:47</i></span>
<span class="t" id="t125" style="top:728.0px;font-size:10.8px;color:#c9cacd;-webkit-text-stroke:0.3px #c9cacd;left:882.3px;width:600px;text-align:center;transform-origin:50% 50%;transform:scaleX(1.0052);"><i>11:48</i></span>
<span class="t" id="t126" style="top:728.0px;font-size:10.8px;color:#c9cacd;-webkit-text-stroke:0.3px #c9cacd;left:952.2px;width:600px;text-align:center;transform-origin:50% 50%;transform:scaleX(1.0052);"><i>11:49</i></span>
<span class="t" id="t127" style="top:728.0px;font-size:10.8px;color:#c9cacd;-webkit-text-stroke:0.3px #c9cacd;left:1022.0px;width:600px;text-align:center;transform-origin:50% 50%;transform:scaleX(1.0052);"><i>11:50</i></span>
<span class="t" id="t128" style="top:728.0px;font-size:10.8px;color:#c9cacd;-webkit-text-stroke:0.3px #c9cacd;left:1091.9px;width:600px;text-align:center;transform-origin:50% 50%;transform:scaleX(1.0052);"><i>11:51</i></span>
<span class="t" id="t129" style="top:728.0px;font-size:10.8px;color:#c9cacd;-webkit-text-stroke:0.3px #c9cacd;left:1161.8px;width:600px;text-align:center;transform-origin:50% 50%;transform:scaleX(1.0052);"><i>11:52</i></span>
<span class="t" id="t130" style="top:728.0px;font-size:10.8px;color:#c9cacd;-webkit-text-stroke:0.3px #c9cacd;left:1231.7px;width:600px;text-align:center;transform-origin:50% 50%;transform:scaleX(1.0052);"><i>11:53</i></span>
<span class="t" id="t131" style="top:728.0px;font-size:10.8px;color:#c9cacd;-webkit-text-stroke:0.3px #c9cacd;left:1301.6px;width:600px;text-align:center;transform-origin:50% 50%;transform:scaleX(1.0052);"><i>11:54</i></span>
<span class="t" id="t132" style="top:728.0px;font-size:10.8px;color:#c9cacd;-webkit-text-stroke:0.3px #c9cacd;left:1371.4px;width:600px;text-align:center;transform-origin:50% 50%;transform:scaleX(1.0052);"><i>11:55</i></span>
<span class="t" id="t133" style="top:728.0px;font-size:10.8px;color:#c9cacd;-webkit-text-stroke:0.3px #c9cacd;left:1441.3px;width:600px;text-align:center;transform-origin:50% 50%;transform:scaleX(1.0052);"><i>11:56</i></span>
<span class="t" id="t134" style="top:750.4px;font-size:11.3px;color:#d2d3d6;-webkit-text-stroke:0.3px #d2d3d6;left:1055.2px;transform-origin:0 50%;transform:scaleX(0.9246);"><i>HTTP Requests Per Second</i></span>
<span class="t" id="t135" style="top:447.4px;font-size:12.8px;color:#dcdde0;-webkit-text-stroke:0.5px #dcdde0;left:1092.0px;width:600px;text-align:center;transform-origin:50% 50%;transform:scaleX(0.9811);"><i>Application HTTP Requests Rate</i></span>
<span class="t" id="t136" style="top:518.7px;font-size:11.3px;color:#dcdde0;font-weight:700;left:911.2px;width:600px;text-align:center;transform-origin:50% 50%;transform:scaleX(0.9655);"><i>2025-09-17 11:46:36</i></span>
<span class="t" id="t137" style="top:538.0px;font-size:11.5px;color:#d5d6d9;-webkit-text-stroke:0.3px #d5d6d9;left:1129.0px;transform-origin:0 50%;transform:scaleX(0.9170);"><i>HTTP Requests Per Second:</i></span>
<span class="t" id="t138" style="top:538.0px;font-size:11.5px;color:#e4e5e8;font-weight:700;left:1279.0px;transform-origin:0 50%;transform:scaleX(0.9244);"><i>3,181</i></span>
<span class="t" id="t139" style="top:473.9px;font-size:10.8px;color:#c9cacd;-webkit-text-stroke:0.3px #c9cacd;right:723.6px;transform-origin:100% 50%;transform:scaleX(0.9650);"><i>1.50 s</i></span>
<span class="t" id="t140" style="top:511.0px;font-size:10.8px;color:#c9cacd;-webkit-text-stroke:0.3px #c9cacd;right:723.6px;transform-origin:100% 50%;transform:scaleX(0.9650);"><i>1.25 s</i></span>
<span class="t" id="t141" style="top:547.7px;font-size:10.8px;color:#c9cacd;-webkit-text-stroke:0.3px #c9cacd;right:723.6px;transform-origin:100% 50%;transform:scaleX(0.9650);"><i>1.00 s</i></span>
<span class="t" id="t142" style="top:584.8px;font-size:10.8px;color:#c9cacd;-webkit-text-stroke:0.3px #c9cacd;right:723.6px;transform-origin:100% 50%;transform:scaleX(0.9650);"><i>750 ms</i></span>
<span class="t" id="t143" style="top:621.5px;font-size:10.8px;color:#c9cacd;-webkit-text-stroke:0.3px #c9cacd;right:723.6px;transform-origin:100% 50%;transform:scaleX(0.9650);"><i>500 ms</i></span>
<span class="t" id="t144" style="top:658.2px;font-size:10.8px;color:#c9cacd;-webkit-text-stroke:0.3px #c9cacd;right:723.6px;transform-origin:100% 50%;transform:scaleX(0.9650);"><i>250 ms</i></span>
<span class="t" id="t145" style="top:695.0px;font-size:10.8px;color:#c9cacd;-webkit-text-stroke:0.3px #c9cacd;right:723.6px;transform-origin:100% 50%;transform:scaleX(0.9650);"><i>0 µs</i></span>
<span class="t" id="t146" style="top:708.7px;font-size:10.8px;color:#c9cacd;-webkit-text-stroke:0.3px #c9cacd;left:1582.0px;width:600px;text-align:center;transform-origin:50% 50%;transform:scaleX(1.0052);"><i>11:47</i></span>
<span class="t" id="t147" style="top:708.7px;font-size:10.8px;color:#c9cacd;-webkit-text-stroke:0.3px #c9cacd;left:1651.6px;width:600px;text-align:center;transform-origin:50% 50%;transform:scaleX(1.0052);"><i>11:48</i></span>
<span class="t" id="t148" style="top:708.7px;font-size:10.8px;color:#c9cacd;-webkit-text-stroke:0.3px #c9cacd;left:1721.3px;width:600px;text-align:center;transform-origin:50% 50%;transform:scaleX(1.0052);"><i>11:49</i></span>
<span class="t" id="t149" style="top:708.7px;font-size:10.8px;color:#c9cacd;-webkit-text-stroke:0.3px #c9cacd;left:1790.9px;width:600px;text-align:center;transform-origin:50% 50%;transform:scaleX(1.0052);"><i>11:50</i></span>
<span class="t" id="t150" style="top:708.7px;font-size:10.8px;color:#c9cacd;-webkit-text-stroke:0.3px #c9cacd;left:1860.5px;width:600px;text-align:center;transform-origin:50% 50%;transform:scaleX(1.0052);"><i>11:51</i></span>
<span class="t" id="t151" style="top:708.7px;font-size:10.8px;color:#c9cacd;-webkit-text-stroke:0.3px #c9cacd;left:1930.2px;width:600px;text-align:center;transform-origin:50% 50%;transform:scaleX(1.0052);"><i>11:52</i></span>
<span class="t" id="t152" style="top:708.7px;font-size:10.8px;color:#c9cacd;-webkit-text-stroke:0.3px #c9cacd;left:1999.8px;width:600px;text-align:center;transform-origin:50% 50%;transform:scaleX(1.0052);"><i>11:53</i></span>
<span class="t" id="t153" style="top:708.7px;font-size:10.8px;color:#c9cacd;-webkit-text-stroke:0.3px #c9cacd;left:2069.4px;width:600px;text-align:center;transform-origin:50% 50%;transform:scaleX(1.0052);"><i>11:54</i></span>
<span class="t" id="t154" style="top:708.7px;font-size:10.8px;color:#c9cacd;-webkit-text-stroke:0.3px #c9cacd;left:2139.0px;width:600px;text-align:center;transform-origin:50% 50%;transform:scaleX(1.0052);"><i>11:55</i></span>
<span class="t" id="t155" style="top:708.7px;font-size:10.8px;color:#c9cacd;-webkit-text-stroke:0.3px #c9cacd;left:2208.7px;width:600px;text-align:center;transform-origin:50% 50%;transform:scaleX(1.0052);"><i>11:56</i></span>
<span class="t" id="t156" style="top:447.4px;font-size:12.8px;color:#dcdde0;-webkit-text-stroke:0.5px #dcdde0;left:1858.6px;width:600px;text-align:center;transform-origin:50% 50%;transform:scaleX(0.9822);"><i>TCP Instantaneous Latency</i></span>
<span class="t" id="t157" style="top:730.8px;font-size:11.3px;color:#d2d3d6;-webkit-text-stroke:0.3px #d2d3d6;left:1822.1px;transform-origin:0 50%;transform:scaleX(0.9389);"><i>Average Time to First Byte</i></span>
<span class="t" id="t158" style="top:730.8px;font-size:11.3px;color:#d2d3d6;-webkit-text-stroke:0.3px #d2d3d6;left:1973.3px;transform-origin:0 50%;transform:scaleX(0.9387);"><i>Average Time to Last Byte</i></span>
<span class="t" id="t159" style="top:730.8px;font-size:11.3px;color:#d2d3d6;-webkit-text-stroke:0.3px #d2d3d6;left:2124.3px;transform-origin:0 50%;transform:scaleX(0.9352);"><i>Average Connection Latency</i></span>
<span class="t" id="t160" style="top:730.8px;font-size:11.3px;color:#8e8f96;-webkit-text-stroke:0.3px #8e8f96;left:2286.8px;transform-origin:0 50%;transform:scaleX(0.9500);"><i>Time To First Byte (Max)</i></span>
<span class="t" id="t161" style="top:750.4px;font-size:11.3px;color:#8e8f96;-webkit-text-stroke:0.3px #8e8f96;left:1822.1px;transform-origin:0 50%;transform:scaleX(0.9540);"><i>Time To Last Byte (Max)</i></span>
<span class="t" id="t162" style="top:750.4px;font-size:11.3px;color:#8e8f96;-webkit-text-stroke:0.3px #8e8f96;left:1964.7px;transform-origin:0 50%;transform:scaleX(0.9541);"><i>Time To First Byte (Min)</i></span>
<span class="t" id="t163" style="top:750.4px;font-size:11.3px;color:#8e8f96;-webkit-text-stroke:0.3px #8e8f96;left:2105.3px;transform-origin:0 50%;transform:scaleX(0.9565);"><i>Time To Last Byte (Min)</i></span>
<span class="t" id="t164" style="top:815.9px;font-size:10.8px;color:#c9cacd;-webkit-text-stroke:0.3px #c9cacd;right:2265.2px;transform-origin:100% 50%;transform:scaleX(0.9650);"><i>8,000</i></span>
<span class="t" id="t165" style="top:879.0px;font-size:10.8px;color:#c9cacd;-webkit-text-stroke:0.3px #c9cacd;right:2265.2px;transform-origin:100% 50%;transform:scaleX(0.9650);"><i>6,000</i></span>
<span class="t" id="t166" style="top:942.1px;font-size:10.8px;color:#c9cacd;-webkit-text-stroke:0.3px #c9cacd;right:2265.2px;transform-origin:100% 50%;transform:scaleX(0.9650);"><i>4,000</i></span>
<span class="t" id="t167" style="top:1005.1px;font-size:10.8px;color:#c9cacd;-webkit-text-stroke:0.3px #c9cacd;right:2265.2px;transform-origin:100% 50%;transform:scaleX(0.9650);"><i>2,000</i></span>
<span class="t" id="t168" style="top:1068.5px;font-size:10.8px;color:#c9cacd;-webkit-text-stroke:0.3px #c9cacd;right:2265.2px;transform-origin:100% 50%;transform:scaleX(0.9650);"><i>0</i></span>
<span class="t" id="t169" style="top:789.4px;font-size:12.8px;color:#dcdde0;-webkit-text-stroke:0.5px #dcdde0;left:325.8px;width:600px;text-align:center;transform-origin:50% 50%;transform:scaleX(0.9897);"><i>Client Statistics - C2S Strikes</i></span>
<span class="t" id="t170" style="top:1091.9px;font-size:11.3px;color:#d2d3d6;-webkit-text-stroke:0.3px #d2d3d6;left:289.3px;transform-origin:0 50%;transform:scaleX(0.9801);"><i>Initiated</i></span>
<span class="t" id="t171" style="top:1091.9px;font-size:11.3px;color:#d2d3d6;-webkit-text-stroke:0.3px #d2d3d6;left:426.5px;transform-origin:0 50%;transform:scaleX(0.9704);"><i>Allowed</i></span>
<span class="t" id="t172" style="top:1091.9px;font-size:11.3px;color:#d2d3d6;-webkit-text-stroke:0.3px #d2d3d6;left:563.3px;transform-origin:0 50%;transform:scaleX(0.9574);"><i>Blocked</i></span>
<span class="t" id="t173" style="top:1091.9px;font-size:11.3px;color:#d2d3d6;-webkit-text-stroke:0.3px #d2d3d6;left:333.1px;transform-origin:0 50%;transform:scaleX(0.9304);"><i>Current: 7,007</i></span>
<span class="t" id="t174" style="top:1091.9px;font-size:11.3px;color:#d2d3d6;-webkit-text-stroke:0.3px #d2d3d6;left:470.0px;transform-origin:0 50%;transform:scaleX(0.9304);"><i>Current: 6,962</i></span>
<span class="t" id="t175" style="top:1091.9px;font-size:11.3px;color:#d2d3d6;-webkit-text-stroke:0.3px #d2d3d6;left:606.8px;transform-origin:0 50%;transform:scaleX(0.9359);"><i>Current: 45</i></span>
<span class="t" id="t176" style="top:815.9px;font-size:10.8px;color:#c9cacd;-webkit-text-stroke:0.3px #c9cacd;right:1499.6px;transform-origin:100% 50%;transform:scaleX(0.9650);"><i>6,000</i></span>
<span class="t" id="t177" style="top:857.6px;font-size:10.8px;color:#c9cacd;-webkit-text-stroke:0.3px #c9cacd;right:1499.6px;transform-origin:100% 50%;transform:scaleX(0.9650);"><i>5,000</i></span>
<span class="t" id="t178" style="top:899.8px;font-size:10.8px;color:#c9cacd;-webkit-text-stroke:0.3px #c9cacd;right:1499.6px;transform-origin:100% 50%;transform:scaleX(0.9650);"><i>4,000</i></span>
<span class="t" id="t179" style="top:942.1px;font-size:10.8px;color:#c9cacd;-webkit-text-stroke:0.3px #c9cacd;right:1499.6px;transform-origin:100% 50%;transform:scaleX(0.9650);"><i>3,000</i></span>
<span class="t" id="t180" style="top:984.0px;font-size:10.8px;color:#c9cacd;-webkit-text-stroke:0.3px #c9cacd;right:1499.6px;transform-origin:100% 50%;transform:scaleX(0.9650);"><i>2,000</i></span>
<span class="t" id="t181" style="top:1026.3px;font-size:10.8px;color:#c9cacd;-webkit-text-stroke:0.3px #c9cacd;right:1499.6px;transform-origin:100% 50%;transform:scaleX(0.9650);"><i>1,000</i></span>
<span class="t" id="t182" style="top:1068.5px;font-size:10.8px;color:#c9cacd;-webkit-text-stroke:0.3px #c9cacd;right:1499.6px;transform-origin:100% 50%;transform:scaleX(0.9650);"><i>0</i></span>
<span class="t" id="t183" style="top:789.4px;font-size:12.8px;color:#dcdde0;-webkit-text-stroke:0.5px #dcdde0;left:1091.7px;width:600px;text-align:center;transform-origin:50% 50%;transform:scaleX(0.9915);"><i>Client Statistics - S2C Strikes</i></span>
<span class="t" id="t184" style="top:1091.9px;font-size:11.3px;color:#d2d3d6;-webkit-text-stroke:0.3px #d2d3d6;left:1055.2px;transform-origin:0 50%;transform:scaleX(0.9801);"><i>Initiated</i></span>
<span class="t" id="t185" style="top:1091.9px;font-size:11.3px;color:#d2d3d6;-webkit-text-stroke:0.3px #d2d3d6;left:1192.4px;transform-origin:0 50%;transform:scaleX(0.9729);"><i>Allowed</i></span>
<span class="t" id="t186" style="top:1091.9px;font-size:11.3px;color:#d2d3d6;-webkit-text-stroke:0.3px #d2d3d6;left:1329.3px;transform-origin:0 50%;transform:scaleX(0.9624);"><i>Blocked</i></span>
<span class="t" id="t187" style="top:1091.9px;font-size:11.3px;color:#d2d3d6;-webkit-text-stroke:0.3px #d2d3d6;left:1099.0px;transform-origin:0 50%;transform:scaleX(0.9262);"><i>Current: 5,159</i></span>
<span class="t" id="t188" style="top:1091.9px;font-size:11.3px;color:#d2d3d6;-webkit-text-stroke:0.3px #d2d3d6;left:1235.9px;transform-origin:0 50%;transform:scaleX(0.9304);"><i>Current: 5,089</i></span>
<span class="t" id="t189" style="top:1091.9px;font-size:11.3px;color:#d2d3d6;-webkit-text-stroke:0.3px #d2d3d6;left:1372.7px;transform-origin:0 50%;transform:scaleX(0.9359);"><i>Current: 70</i></span>
<span class="t" id="t190" style="top:789.4px;font-size:12.8px;color:#dcdde0;-webkit-text-stroke:0.5px #dcdde0;left:1858.6px;width:600px;text-align:center;transform-origin:50% 50%;transform:scaleX(1.0199);"><i>Application Traffic Distribution</i></span>
<span class="t" id="t191" style="top:968.6px;font-size:11.5px;color:#33b5e5;font-weight:700;right:50.4px;transform-origin:100% 50%;transform:scaleX(0.9030);"><i>percentage</i></span>
<span class="t" id="t192" style="top:987.2px;font-size:11.3px;color:#d2d3d6;-webkit-text-stroke:0.3px #d2d3d6;left:1825.1px;transform-origin:0 50%;transform:scaleX(0.9836);"><i>X.com</i></span>
<span class="t" id="t193" style="top:987.2px;font-size:11.3px;color:#d2d3d6;-webkit-text-stroke:0.3px #d2d3d6;right:50.4px;transform-origin:100% 50%;transform:scaleX(0.9171);"><i>5.95%</i></span>
<span class="t" id="t194" style="top:1006.2px;font-size:11.3px;color:#d2d3d6;-webkit-text-stroke:0.3px #d2d3d6;left:1825.1px;transform-origin:0 50%;transform:scaleX(0.9553);"><i>WebBrowsing</i></span>
<span class="t" id="t195" style="top:1006.2px;font-size:11.3px;color:#d2d3d6;-webkit-text-stroke:0.3px #d2d3d6;right:50.4px;transform-origin:100% 50%;transform:scaleX(0.9338);"><i>29.99%</i></span>
<span class="t" id="t196" style="top:1025.7px;font-size:11.3px;color:#d2d3d6;-webkit-text-stroke:0.3px #d2d3d6;left:1825.1px;transform-origin:0 50%;transform:scaleX(1.0117);"><i>Twitch</i></span>
<span class="t" id="t197" style="top:1025.7px;font-size:11.3px;color:#d2d3d6;-webkit-text-stroke:0.3px #d2d3d6;right:50.4px;transform-origin:100% 50%;transform:scaleX(0.9171);"><i>7.71%</i></span>
<span class="t" id="t198" style="top:1045.8px;font-size:11.3px;color:#d2d3d6;-webkit-text-stroke:0.3px #d2d3d6;left:1825.1px;transform-origin:0 50%;transform:scaleX(0.9509);"><i>Office365 Outlook Chrome</i></span>
<span class="t" id="t199" style="top:1045.8px;font-size:11.3px;color:#d2d3d6;-webkit-text-stroke:0.3px #d2d3d6;right:50.4px;transform-origin:100% 50%;transform:scaleX(0.9234);"><i>10.24%</i></span>
<span class="t" id="t200" style="top:1065.0px;font-size:11.3px;color:#d2d3d6;-webkit-text-stroke:0.3px #d2d3d6;left:1825.1px;transform-origin:0 50%;transform:scaleX(0.9182);"><i>MySQL</i></span>
<span class="t" id="t201" style="top:1065.0px;font-size:11.3px;color:#d2d3d6;-webkit-text-stroke:0.3px #d2d3d6;right:50.4px;transform-origin:100% 50%;transform:scaleX(0.9296);"><i>0.57%</i></span>
<span class="t" id="t202" style="top:1085.0px;font-size:11.3px;color:#d2d3d6;-webkit-text-stroke:0.3px #d2d3d6;left:1825.1px;transform-origin:0 50%;transform:scaleX(0.9538);"><i>Jira Chrome</i></span>
<span class="t" id="t203" style="top:1085.0px;font-size:11.3px;color:#d2d3d6;-webkit-text-stroke:0.3px #d2d3d6;right:50.4px;transform-origin:100% 50%;transform:scaleX(0.9296);"><i>6.00%</i></span>
<span class="t" id="t204" style="top:1104.7px;font-size:11.3px;color:#d2d3d6;-webkit-text-stroke:0.3px #d2d3d6;left:1825.1px;transform-origin:0 50%;transform:scaleX(0.9641);clip-path:inset(0 0 12.8px 0);"><i>Instagram Chrome</i></span>
<span class="t" id="t205" style="top:1104.7px;font-size:11.3px;color:#d2d3d6;-webkit-text-stroke:0.3px #d2d3d6;right:50.4px;transform-origin:100% 50%;transform:scaleX(0.9171);clip-path:inset(0 0 12.8px 0);"><i>5.38%</i></span>
</body></html>
